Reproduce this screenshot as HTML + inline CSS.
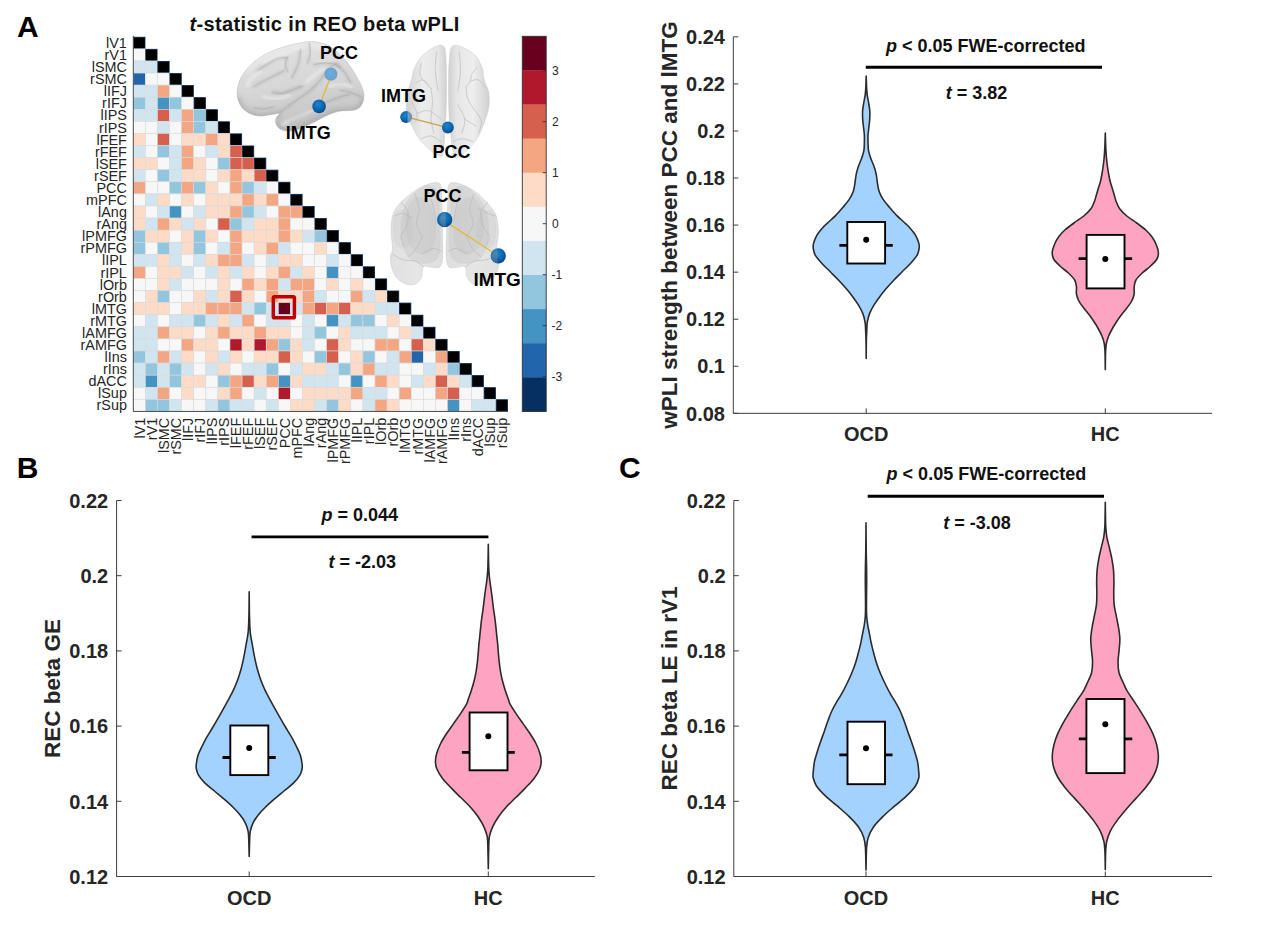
<!DOCTYPE html>
<html lang="en"><head><meta charset="utf-8"><title>Figure</title>
<style>
html,body{margin:0;padding:0;background:#fff;overflow:hidden}
svg{display:block;font-family:"Liberation Sans",sans-serif}
</style></head><body>
<svg width="1270" height="928" viewBox="0 0 1270 928">
<rect width="1270" height="928" fill="#fff"/>
<g id="heatmap">
<rect x="133.7" y="37.2" width="11.29" height="11.29" fill="#000" stroke="#05254d" stroke-width="0.8"/>
<rect x="133.3" y="48.88" width="12.09" height="12.09" fill="#f7f7f7" stroke="#d9d9d9" stroke-width="0.6"/>
<rect x="145.79" y="49.28" width="11.29" height="11.29" fill="#000" stroke="#05254d" stroke-width="0.8"/>
<rect x="133.3" y="60.97" width="12.09" height="12.09" fill="#d1e5f0" stroke="#d9d9d9" stroke-width="0.6"/>
<rect x="145.39" y="60.97" width="12.09" height="12.09" fill="#d1e5f0" stroke="#d9d9d9" stroke-width="0.6"/>
<rect x="157.87" y="61.37" width="11.29" height="11.29" fill="#000" stroke="#05254d" stroke-width="0.8"/>
<rect x="133.3" y="73.06" width="12.09" height="12.09" fill="#2166ac" stroke="#d9d9d9" stroke-width="0.6"/>
<rect x="145.39" y="73.06" width="12.09" height="12.09" fill="#f7f7f7" stroke="#d9d9d9" stroke-width="0.6"/>
<rect x="157.47" y="73.06" width="12.09" height="12.09" fill="#f7f7f7" stroke="#d9d9d9" stroke-width="0.6"/>
<rect x="169.96" y="73.46" width="11.29" height="11.29" fill="#000" stroke="#05254d" stroke-width="0.8"/>
<rect x="133.3" y="85.14" width="12.09" height="12.09" fill="#d1e5f0" stroke="#d9d9d9" stroke-width="0.6"/>
<rect x="145.39" y="85.14" width="12.09" height="12.09" fill="#d1e5f0" stroke="#d9d9d9" stroke-width="0.6"/>
<rect x="157.47" y="85.14" width="12.09" height="12.09" fill="#f4a582" stroke="#d9d9d9" stroke-width="0.6"/>
<rect x="169.56" y="85.14" width="12.09" height="12.09" fill="#f7f7f7" stroke="#d9d9d9" stroke-width="0.6"/>
<rect x="182.04" y="85.54" width="11.29" height="11.29" fill="#000" stroke="#05254d" stroke-width="0.8"/>
<rect x="133.3" y="97.22" width="12.09" height="12.09" fill="#92c5de" stroke="#d9d9d9" stroke-width="0.6"/>
<rect x="145.39" y="97.22" width="12.09" height="12.09" fill="#d1e5f0" stroke="#d9d9d9" stroke-width="0.6"/>
<rect x="157.47" y="97.22" width="12.09" height="12.09" fill="#4393c3" stroke="#d9d9d9" stroke-width="0.6"/>
<rect x="169.56" y="97.22" width="12.09" height="12.09" fill="#92c5de" stroke="#d9d9d9" stroke-width="0.6"/>
<rect x="181.64" y="97.22" width="12.09" height="12.09" fill="#f7f7f7" stroke="#d9d9d9" stroke-width="0.6"/>
<rect x="194.13" y="97.62" width="11.29" height="11.29" fill="#000" stroke="#05254d" stroke-width="0.8"/>
<rect x="133.3" y="109.31" width="12.09" height="12.09" fill="#d1e5f0" stroke="#d9d9d9" stroke-width="0.6"/>
<rect x="145.39" y="109.31" width="12.09" height="12.09" fill="#d1e5f0" stroke="#d9d9d9" stroke-width="0.6"/>
<rect x="157.47" y="109.31" width="12.09" height="12.09" fill="#d6604d" stroke="#d9d9d9" stroke-width="0.6"/>
<rect x="169.56" y="109.31" width="12.09" height="12.09" fill="#d1e5f0" stroke="#d9d9d9" stroke-width="0.6"/>
<rect x="181.64" y="109.31" width="12.09" height="12.09" fill="#f4a582" stroke="#d9d9d9" stroke-width="0.6"/>
<rect x="193.73" y="109.31" width="12.09" height="12.09" fill="#92c5de" stroke="#d9d9d9" stroke-width="0.6"/>
<rect x="206.21" y="109.71" width="11.29" height="11.29" fill="#000" stroke="#05254d" stroke-width="0.8"/>
<rect x="133.3" y="121.39" width="12.09" height="12.09" fill="#f7f7f7" stroke="#d9d9d9" stroke-width="0.6"/>
<rect x="145.39" y="121.39" width="12.09" height="12.09" fill="#f7f7f7" stroke="#d9d9d9" stroke-width="0.6"/>
<rect x="157.47" y="121.39" width="12.09" height="12.09" fill="#d1e5f0" stroke="#d9d9d9" stroke-width="0.6"/>
<rect x="169.56" y="121.39" width="12.09" height="12.09" fill="#f7f7f7" stroke="#d9d9d9" stroke-width="0.6"/>
<rect x="181.64" y="121.39" width="12.09" height="12.09" fill="#f4a582" stroke="#d9d9d9" stroke-width="0.6"/>
<rect x="193.73" y="121.39" width="12.09" height="12.09" fill="#92c5de" stroke="#d9d9d9" stroke-width="0.6"/>
<rect x="205.81" y="121.39" width="12.09" height="12.09" fill="#d1e5f0" stroke="#d9d9d9" stroke-width="0.6"/>
<rect x="218.3" y="121.8" width="11.29" height="11.29" fill="#000" stroke="#05254d" stroke-width="0.8"/>
<rect x="133.3" y="133.48" width="12.09" height="12.09" fill="#fddbc7" stroke="#d9d9d9" stroke-width="0.6"/>
<rect x="145.39" y="133.48" width="12.09" height="12.09" fill="#f7f7f7" stroke="#d9d9d9" stroke-width="0.6"/>
<rect x="157.47" y="133.48" width="12.09" height="12.09" fill="#d6604d" stroke="#d9d9d9" stroke-width="0.6"/>
<rect x="169.56" y="133.48" width="12.09" height="12.09" fill="#f7f7f7" stroke="#d9d9d9" stroke-width="0.6"/>
<rect x="181.64" y="133.48" width="12.09" height="12.09" fill="#fddbc7" stroke="#d9d9d9" stroke-width="0.6"/>
<rect x="193.73" y="133.48" width="12.09" height="12.09" fill="#fddbc7" stroke="#d9d9d9" stroke-width="0.6"/>
<rect x="205.81" y="133.48" width="12.09" height="12.09" fill="#f4a582" stroke="#d9d9d9" stroke-width="0.6"/>
<rect x="217.9" y="133.48" width="12.09" height="12.09" fill="#fddbc7" stroke="#d9d9d9" stroke-width="0.6"/>
<rect x="230.38" y="133.88" width="11.29" height="11.29" fill="#000" stroke="#05254d" stroke-width="0.8"/>
<rect x="133.3" y="145.56" width="12.09" height="12.09" fill="#d1e5f0" stroke="#d9d9d9" stroke-width="0.6"/>
<rect x="145.39" y="145.56" width="12.09" height="12.09" fill="#f7f7f7" stroke="#d9d9d9" stroke-width="0.6"/>
<rect x="157.47" y="145.56" width="12.09" height="12.09" fill="#92c5de" stroke="#d9d9d9" stroke-width="0.6"/>
<rect x="169.56" y="145.56" width="12.09" height="12.09" fill="#d1e5f0" stroke="#d9d9d9" stroke-width="0.6"/>
<rect x="181.64" y="145.56" width="12.09" height="12.09" fill="#f4a582" stroke="#d9d9d9" stroke-width="0.6"/>
<rect x="193.73" y="145.56" width="12.09" height="12.09" fill="#f7f7f7" stroke="#d9d9d9" stroke-width="0.6"/>
<rect x="205.81" y="145.56" width="12.09" height="12.09" fill="#d1e5f0" stroke="#d9d9d9" stroke-width="0.6"/>
<rect x="217.9" y="145.56" width="12.09" height="12.09" fill="#fddbc7" stroke="#d9d9d9" stroke-width="0.6"/>
<rect x="229.98" y="145.56" width="12.09" height="12.09" fill="#d6604d" stroke="#d9d9d9" stroke-width="0.6"/>
<rect x="242.47" y="145.97" width="11.29" height="11.29" fill="#000" stroke="#05254d" stroke-width="0.8"/>
<rect x="133.3" y="157.65" width="12.09" height="12.09" fill="#fddbc7" stroke="#d9d9d9" stroke-width="0.6"/>
<rect x="145.39" y="157.65" width="12.09" height="12.09" fill="#fddbc7" stroke="#d9d9d9" stroke-width="0.6"/>
<rect x="157.47" y="157.65" width="12.09" height="12.09" fill="#f7f7f7" stroke="#d9d9d9" stroke-width="0.6"/>
<rect x="169.56" y="157.65" width="12.09" height="12.09" fill="#d1e5f0" stroke="#d9d9d9" stroke-width="0.6"/>
<rect x="181.64" y="157.65" width="12.09" height="12.09" fill="#f4a582" stroke="#d9d9d9" stroke-width="0.6"/>
<rect x="193.73" y="157.65" width="12.09" height="12.09" fill="#fddbc7" stroke="#d9d9d9" stroke-width="0.6"/>
<rect x="205.81" y="157.65" width="12.09" height="12.09" fill="#f7f7f7" stroke="#d9d9d9" stroke-width="0.6"/>
<rect x="217.9" y="157.65" width="12.09" height="12.09" fill="#92c5de" stroke="#d9d9d9" stroke-width="0.6"/>
<rect x="229.98" y="157.65" width="12.09" height="12.09" fill="#d6604d" stroke="#d9d9d9" stroke-width="0.6"/>
<rect x="242.07" y="157.65" width="12.09" height="12.09" fill="#d6604d" stroke="#d9d9d9" stroke-width="0.6"/>
<rect x="254.55" y="158.05" width="11.29" height="11.29" fill="#000" stroke="#05254d" stroke-width="0.8"/>
<rect x="133.3" y="169.74" width="12.09" height="12.09" fill="#d1e5f0" stroke="#d9d9d9" stroke-width="0.6"/>
<rect x="145.39" y="169.74" width="12.09" height="12.09" fill="#f7f7f7" stroke="#d9d9d9" stroke-width="0.6"/>
<rect x="157.47" y="169.74" width="12.09" height="12.09" fill="#92c5de" stroke="#d9d9d9" stroke-width="0.6"/>
<rect x="169.56" y="169.74" width="12.09" height="12.09" fill="#d1e5f0" stroke="#d9d9d9" stroke-width="0.6"/>
<rect x="181.64" y="169.74" width="12.09" height="12.09" fill="#fddbc7" stroke="#d9d9d9" stroke-width="0.6"/>
<rect x="193.73" y="169.74" width="12.09" height="12.09" fill="#fddbc7" stroke="#d9d9d9" stroke-width="0.6"/>
<rect x="205.81" y="169.74" width="12.09" height="12.09" fill="#f7f7f7" stroke="#d9d9d9" stroke-width="0.6"/>
<rect x="217.9" y="169.74" width="12.09" height="12.09" fill="#fddbc7" stroke="#d9d9d9" stroke-width="0.6"/>
<rect x="229.98" y="169.74" width="12.09" height="12.09" fill="#f4a582" stroke="#d9d9d9" stroke-width="0.6"/>
<rect x="242.07" y="169.74" width="12.09" height="12.09" fill="#fddbc7" stroke="#d9d9d9" stroke-width="0.6"/>
<rect x="254.15" y="169.74" width="12.09" height="12.09" fill="#d6604d" stroke="#d9d9d9" stroke-width="0.6"/>
<rect x="266.63" y="170.14" width="11.29" height="11.29" fill="#000" stroke="#05254d" stroke-width="0.8"/>
<rect x="133.3" y="181.82" width="12.09" height="12.09" fill="#f4a582" stroke="#d9d9d9" stroke-width="0.6"/>
<rect x="145.39" y="181.82" width="12.09" height="12.09" fill="#f7f7f7" stroke="#d9d9d9" stroke-width="0.6"/>
<rect x="157.47" y="181.82" width="12.09" height="12.09" fill="#f7f7f7" stroke="#d9d9d9" stroke-width="0.6"/>
<rect x="169.56" y="181.82" width="12.09" height="12.09" fill="#92c5de" stroke="#d9d9d9" stroke-width="0.6"/>
<rect x="181.64" y="181.82" width="12.09" height="12.09" fill="#f4a582" stroke="#d9d9d9" stroke-width="0.6"/>
<rect x="193.73" y="181.82" width="12.09" height="12.09" fill="#92c5de" stroke="#d9d9d9" stroke-width="0.6"/>
<rect x="205.81" y="181.82" width="12.09" height="12.09" fill="#fddbc7" stroke="#d9d9d9" stroke-width="0.6"/>
<rect x="217.9" y="181.82" width="12.09" height="12.09" fill="#f7f7f7" stroke="#d9d9d9" stroke-width="0.6"/>
<rect x="229.98" y="181.82" width="12.09" height="12.09" fill="#f4a582" stroke="#d9d9d9" stroke-width="0.6"/>
<rect x="242.07" y="181.82" width="12.09" height="12.09" fill="#92c5de" stroke="#d9d9d9" stroke-width="0.6"/>
<rect x="254.15" y="181.82" width="12.09" height="12.09" fill="#d1e5f0" stroke="#d9d9d9" stroke-width="0.6"/>
<rect x="266.24" y="181.82" width="12.09" height="12.09" fill="#f7f7f7" stroke="#d9d9d9" stroke-width="0.6"/>
<rect x="278.72" y="182.22" width="11.29" height="11.29" fill="#000" stroke="#05254d" stroke-width="0.8"/>
<rect x="133.3" y="193.91" width="12.09" height="12.09" fill="#f7f7f7" stroke="#d9d9d9" stroke-width="0.6"/>
<rect x="145.39" y="193.91" width="12.09" height="12.09" fill="#d1e5f0" stroke="#d9d9d9" stroke-width="0.6"/>
<rect x="157.47" y="193.91" width="12.09" height="12.09" fill="#fddbc7" stroke="#d9d9d9" stroke-width="0.6"/>
<rect x="169.56" y="193.91" width="12.09" height="12.09" fill="#f7f7f7" stroke="#d9d9d9" stroke-width="0.6"/>
<rect x="181.64" y="193.91" width="12.09" height="12.09" fill="#fddbc7" stroke="#d9d9d9" stroke-width="0.6"/>
<rect x="193.73" y="193.91" width="12.09" height="12.09" fill="#f7f7f7" stroke="#d9d9d9" stroke-width="0.6"/>
<rect x="205.81" y="193.91" width="12.09" height="12.09" fill="#fddbc7" stroke="#d9d9d9" stroke-width="0.6"/>
<rect x="217.9" y="193.91" width="12.09" height="12.09" fill="#fddbc7" stroke="#d9d9d9" stroke-width="0.6"/>
<rect x="229.98" y="193.91" width="12.09" height="12.09" fill="#fddbc7" stroke="#d9d9d9" stroke-width="0.6"/>
<rect x="242.07" y="193.91" width="12.09" height="12.09" fill="#f4a582" stroke="#d9d9d9" stroke-width="0.6"/>
<rect x="254.15" y="193.91" width="12.09" height="12.09" fill="#fddbc7" stroke="#d9d9d9" stroke-width="0.6"/>
<rect x="266.24" y="193.91" width="12.09" height="12.09" fill="#f4a582" stroke="#d9d9d9" stroke-width="0.6"/>
<rect x="278.32" y="193.91" width="12.09" height="12.09" fill="#f7f7f7" stroke="#d9d9d9" stroke-width="0.6"/>
<rect x="290.81" y="194.31" width="11.29" height="11.29" fill="#000" stroke="#05254d" stroke-width="0.8"/>
<rect x="133.3" y="205.99" width="12.09" height="12.09" fill="#fddbc7" stroke="#d9d9d9" stroke-width="0.6"/>
<rect x="145.39" y="205.99" width="12.09" height="12.09" fill="#f7f7f7" stroke="#d9d9d9" stroke-width="0.6"/>
<rect x="157.47" y="205.99" width="12.09" height="12.09" fill="#d1e5f0" stroke="#d9d9d9" stroke-width="0.6"/>
<rect x="169.56" y="205.99" width="12.09" height="12.09" fill="#4393c3" stroke="#d9d9d9" stroke-width="0.6"/>
<rect x="181.64" y="205.99" width="12.09" height="12.09" fill="#f7f7f7" stroke="#d9d9d9" stroke-width="0.6"/>
<rect x="193.73" y="205.99" width="12.09" height="12.09" fill="#d1e5f0" stroke="#d9d9d9" stroke-width="0.6"/>
<rect x="205.81" y="205.99" width="12.09" height="12.09" fill="#fddbc7" stroke="#d9d9d9" stroke-width="0.6"/>
<rect x="217.9" y="205.99" width="12.09" height="12.09" fill="#fddbc7" stroke="#d9d9d9" stroke-width="0.6"/>
<rect x="229.98" y="205.99" width="12.09" height="12.09" fill="#f4a582" stroke="#d9d9d9" stroke-width="0.6"/>
<rect x="242.07" y="205.99" width="12.09" height="12.09" fill="#92c5de" stroke="#d9d9d9" stroke-width="0.6"/>
<rect x="254.15" y="205.99" width="12.09" height="12.09" fill="#d1e5f0" stroke="#d9d9d9" stroke-width="0.6"/>
<rect x="266.24" y="205.99" width="12.09" height="12.09" fill="#f7f7f7" stroke="#d9d9d9" stroke-width="0.6"/>
<rect x="278.32" y="205.99" width="12.09" height="12.09" fill="#f4a582" stroke="#d9d9d9" stroke-width="0.6"/>
<rect x="290.41" y="205.99" width="12.09" height="12.09" fill="#f4a582" stroke="#d9d9d9" stroke-width="0.6"/>
<rect x="302.89" y="206.39" width="11.29" height="11.29" fill="#000" stroke="#05254d" stroke-width="0.8"/>
<rect x="133.3" y="218.07" width="12.09" height="12.09" fill="#fddbc7" stroke="#d9d9d9" stroke-width="0.6"/>
<rect x="145.39" y="218.07" width="12.09" height="12.09" fill="#d1e5f0" stroke="#d9d9d9" stroke-width="0.6"/>
<rect x="157.47" y="218.07" width="12.09" height="12.09" fill="#f4a582" stroke="#d9d9d9" stroke-width="0.6"/>
<rect x="169.56" y="218.07" width="12.09" height="12.09" fill="#fddbc7" stroke="#d9d9d9" stroke-width="0.6"/>
<rect x="181.64" y="218.07" width="12.09" height="12.09" fill="#d1e5f0" stroke="#d9d9d9" stroke-width="0.6"/>
<rect x="193.73" y="218.07" width="12.09" height="12.09" fill="#fddbc7" stroke="#d9d9d9" stroke-width="0.6"/>
<rect x="205.81" y="218.07" width="12.09" height="12.09" fill="#f7f7f7" stroke="#d9d9d9" stroke-width="0.6"/>
<rect x="217.9" y="218.07" width="12.09" height="12.09" fill="#d6604d" stroke="#d9d9d9" stroke-width="0.6"/>
<rect x="229.98" y="218.07" width="12.09" height="12.09" fill="#92c5de" stroke="#d9d9d9" stroke-width="0.6"/>
<rect x="242.07" y="218.07" width="12.09" height="12.09" fill="#d1e5f0" stroke="#d9d9d9" stroke-width="0.6"/>
<rect x="254.15" y="218.07" width="12.09" height="12.09" fill="#fddbc7" stroke="#d9d9d9" stroke-width="0.6"/>
<rect x="266.24" y="218.07" width="12.09" height="12.09" fill="#fddbc7" stroke="#d9d9d9" stroke-width="0.6"/>
<rect x="278.32" y="218.07" width="12.09" height="12.09" fill="#f4a582" stroke="#d9d9d9" stroke-width="0.6"/>
<rect x="290.41" y="218.07" width="12.09" height="12.09" fill="#f7f7f7" stroke="#d9d9d9" stroke-width="0.6"/>
<rect x="302.49" y="218.07" width="12.09" height="12.09" fill="#f7f7f7" stroke="#d9d9d9" stroke-width="0.6"/>
<rect x="314.98" y="218.47" width="11.29" height="11.29" fill="#000" stroke="#05254d" stroke-width="0.8"/>
<rect x="133.3" y="230.16" width="12.09" height="12.09" fill="#92c5de" stroke="#d9d9d9" stroke-width="0.6"/>
<rect x="145.39" y="230.16" width="12.09" height="12.09" fill="#fddbc7" stroke="#d9d9d9" stroke-width="0.6"/>
<rect x="157.47" y="230.16" width="12.09" height="12.09" fill="#fddbc7" stroke="#d9d9d9" stroke-width="0.6"/>
<rect x="169.56" y="230.16" width="12.09" height="12.09" fill="#f7f7f7" stroke="#d9d9d9" stroke-width="0.6"/>
<rect x="181.64" y="230.16" width="12.09" height="12.09" fill="#fddbc7" stroke="#d9d9d9" stroke-width="0.6"/>
<rect x="193.73" y="230.16" width="12.09" height="12.09" fill="#92c5de" stroke="#d9d9d9" stroke-width="0.6"/>
<rect x="205.81" y="230.16" width="12.09" height="12.09" fill="#fddbc7" stroke="#d9d9d9" stroke-width="0.6"/>
<rect x="217.9" y="230.16" width="12.09" height="12.09" fill="#f7f7f7" stroke="#d9d9d9" stroke-width="0.6"/>
<rect x="229.98" y="230.16" width="12.09" height="12.09" fill="#f4a582" stroke="#d9d9d9" stroke-width="0.6"/>
<rect x="242.07" y="230.16" width="12.09" height="12.09" fill="#fddbc7" stroke="#d9d9d9" stroke-width="0.6"/>
<rect x="254.15" y="230.16" width="12.09" height="12.09" fill="#fddbc7" stroke="#d9d9d9" stroke-width="0.6"/>
<rect x="266.24" y="230.16" width="12.09" height="12.09" fill="#fddbc7" stroke="#d9d9d9" stroke-width="0.6"/>
<rect x="278.32" y="230.16" width="12.09" height="12.09" fill="#f4a582" stroke="#d9d9d9" stroke-width="0.6"/>
<rect x="290.41" y="230.16" width="12.09" height="12.09" fill="#fddbc7" stroke="#d9d9d9" stroke-width="0.6"/>
<rect x="302.49" y="230.16" width="12.09" height="12.09" fill="#d1e5f0" stroke="#d9d9d9" stroke-width="0.6"/>
<rect x="314.58" y="230.16" width="12.09" height="12.09" fill="#92c5de" stroke="#d9d9d9" stroke-width="0.6"/>
<rect x="327.06" y="230.56" width="11.29" height="11.29" fill="#000" stroke="#05254d" stroke-width="0.8"/>
<rect x="133.3" y="242.25" width="12.09" height="12.09" fill="#92c5de" stroke="#d9d9d9" stroke-width="0.6"/>
<rect x="145.39" y="242.25" width="12.09" height="12.09" fill="#f7f7f7" stroke="#d9d9d9" stroke-width="0.6"/>
<rect x="157.47" y="242.25" width="12.09" height="12.09" fill="#92c5de" stroke="#d9d9d9" stroke-width="0.6"/>
<rect x="169.56" y="242.25" width="12.09" height="12.09" fill="#d1e5f0" stroke="#d9d9d9" stroke-width="0.6"/>
<rect x="181.64" y="242.25" width="12.09" height="12.09" fill="#fddbc7" stroke="#d9d9d9" stroke-width="0.6"/>
<rect x="193.73" y="242.25" width="12.09" height="12.09" fill="#92c5de" stroke="#d9d9d9" stroke-width="0.6"/>
<rect x="205.81" y="242.25" width="12.09" height="12.09" fill="#f7f7f7" stroke="#d9d9d9" stroke-width="0.6"/>
<rect x="217.9" y="242.25" width="12.09" height="12.09" fill="#d1e5f0" stroke="#d9d9d9" stroke-width="0.6"/>
<rect x="229.98" y="242.25" width="12.09" height="12.09" fill="#f4a582" stroke="#d9d9d9" stroke-width="0.6"/>
<rect x="242.07" y="242.25" width="12.09" height="12.09" fill="#f7f7f7" stroke="#d9d9d9" stroke-width="0.6"/>
<rect x="254.15" y="242.25" width="12.09" height="12.09" fill="#fddbc7" stroke="#d9d9d9" stroke-width="0.6"/>
<rect x="266.24" y="242.25" width="12.09" height="12.09" fill="#f4a582" stroke="#d9d9d9" stroke-width="0.6"/>
<rect x="278.32" y="242.25" width="12.09" height="12.09" fill="#d1e5f0" stroke="#d9d9d9" stroke-width="0.6"/>
<rect x="290.41" y="242.25" width="12.09" height="12.09" fill="#f7f7f7" stroke="#d9d9d9" stroke-width="0.6"/>
<rect x="302.49" y="242.25" width="12.09" height="12.09" fill="#f7f7f7" stroke="#d9d9d9" stroke-width="0.6"/>
<rect x="314.58" y="242.25" width="12.09" height="12.09" fill="#fddbc7" stroke="#d9d9d9" stroke-width="0.6"/>
<rect x="326.66" y="242.25" width="12.09" height="12.09" fill="#f7f7f7" stroke="#d9d9d9" stroke-width="0.6"/>
<rect x="339.14" y="242.65" width="11.29" height="11.29" fill="#000" stroke="#05254d" stroke-width="0.8"/>
<rect x="133.3" y="254.33" width="12.09" height="12.09" fill="#d1e5f0" stroke="#d9d9d9" stroke-width="0.6"/>
<rect x="145.39" y="254.33" width="12.09" height="12.09" fill="#d1e5f0" stroke="#d9d9d9" stroke-width="0.6"/>
<rect x="157.47" y="254.33" width="12.09" height="12.09" fill="#fddbc7" stroke="#d9d9d9" stroke-width="0.6"/>
<rect x="169.56" y="254.33" width="12.09" height="12.09" fill="#d1e5f0" stroke="#d9d9d9" stroke-width="0.6"/>
<rect x="181.64" y="254.33" width="12.09" height="12.09" fill="#f7f7f7" stroke="#d9d9d9" stroke-width="0.6"/>
<rect x="193.73" y="254.33" width="12.09" height="12.09" fill="#d1e5f0" stroke="#d9d9d9" stroke-width="0.6"/>
<rect x="205.81" y="254.33" width="12.09" height="12.09" fill="#fddbc7" stroke="#d9d9d9" stroke-width="0.6"/>
<rect x="217.9" y="254.33" width="12.09" height="12.09" fill="#f4a582" stroke="#d9d9d9" stroke-width="0.6"/>
<rect x="229.98" y="254.33" width="12.09" height="12.09" fill="#f4a582" stroke="#d9d9d9" stroke-width="0.6"/>
<rect x="242.07" y="254.33" width="12.09" height="12.09" fill="#d1e5f0" stroke="#d9d9d9" stroke-width="0.6"/>
<rect x="254.15" y="254.33" width="12.09" height="12.09" fill="#f7f7f7" stroke="#d9d9d9" stroke-width="0.6"/>
<rect x="266.24" y="254.33" width="12.09" height="12.09" fill="#d1e5f0" stroke="#d9d9d9" stroke-width="0.6"/>
<rect x="278.32" y="254.33" width="12.09" height="12.09" fill="#fddbc7" stroke="#d9d9d9" stroke-width="0.6"/>
<rect x="290.41" y="254.33" width="12.09" height="12.09" fill="#fddbc7" stroke="#d9d9d9" stroke-width="0.6"/>
<rect x="302.49" y="254.33" width="12.09" height="12.09" fill="#f7f7f7" stroke="#d9d9d9" stroke-width="0.6"/>
<rect x="314.58" y="254.33" width="12.09" height="12.09" fill="#f7f7f7" stroke="#d9d9d9" stroke-width="0.6"/>
<rect x="326.66" y="254.33" width="12.09" height="12.09" fill="#d1e5f0" stroke="#d9d9d9" stroke-width="0.6"/>
<rect x="338.75" y="254.33" width="12.09" height="12.09" fill="#f7f7f7" stroke="#d9d9d9" stroke-width="0.6"/>
<rect x="351.23" y="254.73" width="11.29" height="11.29" fill="#000" stroke="#05254d" stroke-width="0.8"/>
<rect x="133.3" y="266.42" width="12.09" height="12.09" fill="#f4a582" stroke="#d9d9d9" stroke-width="0.6"/>
<rect x="145.39" y="266.42" width="12.09" height="12.09" fill="#f7f7f7" stroke="#d9d9d9" stroke-width="0.6"/>
<rect x="157.47" y="266.42" width="12.09" height="12.09" fill="#fddbc7" stroke="#d9d9d9" stroke-width="0.6"/>
<rect x="169.56" y="266.42" width="12.09" height="12.09" fill="#fddbc7" stroke="#d9d9d9" stroke-width="0.6"/>
<rect x="181.64" y="266.42" width="12.09" height="12.09" fill="#d1e5f0" stroke="#d9d9d9" stroke-width="0.6"/>
<rect x="193.73" y="266.42" width="12.09" height="12.09" fill="#f7f7f7" stroke="#d9d9d9" stroke-width="0.6"/>
<rect x="205.81" y="266.42" width="12.09" height="12.09" fill="#d1e5f0" stroke="#d9d9d9" stroke-width="0.6"/>
<rect x="217.9" y="266.42" width="12.09" height="12.09" fill="#fddbc7" stroke="#d9d9d9" stroke-width="0.6"/>
<rect x="229.98" y="266.42" width="12.09" height="12.09" fill="#d1e5f0" stroke="#d9d9d9" stroke-width="0.6"/>
<rect x="242.07" y="266.42" width="12.09" height="12.09" fill="#fddbc7" stroke="#d9d9d9" stroke-width="0.6"/>
<rect x="254.15" y="266.42" width="12.09" height="12.09" fill="#f7f7f7" stroke="#d9d9d9" stroke-width="0.6"/>
<rect x="266.24" y="266.42" width="12.09" height="12.09" fill="#fddbc7" stroke="#d9d9d9" stroke-width="0.6"/>
<rect x="278.32" y="266.42" width="12.09" height="12.09" fill="#f4a582" stroke="#d9d9d9" stroke-width="0.6"/>
<rect x="290.41" y="266.42" width="12.09" height="12.09" fill="#d1e5f0" stroke="#d9d9d9" stroke-width="0.6"/>
<rect x="302.49" y="266.42" width="12.09" height="12.09" fill="#fddbc7" stroke="#d9d9d9" stroke-width="0.6"/>
<rect x="314.58" y="266.42" width="12.09" height="12.09" fill="#f7f7f7" stroke="#d9d9d9" stroke-width="0.6"/>
<rect x="326.66" y="266.42" width="12.09" height="12.09" fill="#4393c3" stroke="#d9d9d9" stroke-width="0.6"/>
<rect x="338.75" y="266.42" width="12.09" height="12.09" fill="#f7f7f7" stroke="#d9d9d9" stroke-width="0.6"/>
<rect x="350.83" y="266.42" width="12.09" height="12.09" fill="#f7f7f7" stroke="#d9d9d9" stroke-width="0.6"/>
<rect x="363.31" y="266.81" width="11.29" height="11.29" fill="#000" stroke="#05254d" stroke-width="0.8"/>
<rect x="133.3" y="278.5" width="12.09" height="12.09" fill="#f7f7f7" stroke="#d9d9d9" stroke-width="0.6"/>
<rect x="145.39" y="278.5" width="12.09" height="12.09" fill="#f7f7f7" stroke="#d9d9d9" stroke-width="0.6"/>
<rect x="157.47" y="278.5" width="12.09" height="12.09" fill="#fddbc7" stroke="#d9d9d9" stroke-width="0.6"/>
<rect x="169.56" y="278.5" width="12.09" height="12.09" fill="#d1e5f0" stroke="#d9d9d9" stroke-width="0.6"/>
<rect x="181.64" y="278.5" width="12.09" height="12.09" fill="#f7f7f7" stroke="#d9d9d9" stroke-width="0.6"/>
<rect x="193.73" y="278.5" width="12.09" height="12.09" fill="#f7f7f7" stroke="#d9d9d9" stroke-width="0.6"/>
<rect x="205.81" y="278.5" width="12.09" height="12.09" fill="#f7f7f7" stroke="#d9d9d9" stroke-width="0.6"/>
<rect x="217.9" y="278.5" width="12.09" height="12.09" fill="#fddbc7" stroke="#d9d9d9" stroke-width="0.6"/>
<rect x="229.98" y="278.5" width="12.09" height="12.09" fill="#f7f7f7" stroke="#d9d9d9" stroke-width="0.6"/>
<rect x="242.07" y="278.5" width="12.09" height="12.09" fill="#f4a582" stroke="#d9d9d9" stroke-width="0.6"/>
<rect x="254.15" y="278.5" width="12.09" height="12.09" fill="#fddbc7" stroke="#d9d9d9" stroke-width="0.6"/>
<rect x="266.24" y="278.5" width="12.09" height="12.09" fill="#f4a582" stroke="#d9d9d9" stroke-width="0.6"/>
<rect x="278.32" y="278.5" width="12.09" height="12.09" fill="#d1e5f0" stroke="#d9d9d9" stroke-width="0.6"/>
<rect x="290.41" y="278.5" width="12.09" height="12.09" fill="#f4a582" stroke="#d9d9d9" stroke-width="0.6"/>
<rect x="302.49" y="278.5" width="12.09" height="12.09" fill="#f4a582" stroke="#d9d9d9" stroke-width="0.6"/>
<rect x="314.58" y="278.5" width="12.09" height="12.09" fill="#f7f7f7" stroke="#d9d9d9" stroke-width="0.6"/>
<rect x="326.66" y="278.5" width="12.09" height="12.09" fill="#fddbc7" stroke="#d9d9d9" stroke-width="0.6"/>
<rect x="338.75" y="278.5" width="12.09" height="12.09" fill="#f7f7f7" stroke="#d9d9d9" stroke-width="0.6"/>
<rect x="350.83" y="278.5" width="12.09" height="12.09" fill="#fddbc7" stroke="#d9d9d9" stroke-width="0.6"/>
<rect x="362.92" y="278.5" width="12.09" height="12.09" fill="#f7f7f7" stroke="#d9d9d9" stroke-width="0.6"/>
<rect x="375.4" y="278.9" width="11.29" height="11.29" fill="#000" stroke="#05254d" stroke-width="0.8"/>
<rect x="133.3" y="290.59" width="12.09" height="12.09" fill="#f7f7f7" stroke="#d9d9d9" stroke-width="0.6"/>
<rect x="145.39" y="290.59" width="12.09" height="12.09" fill="#fddbc7" stroke="#d9d9d9" stroke-width="0.6"/>
<rect x="157.47" y="290.59" width="12.09" height="12.09" fill="#92c5de" stroke="#d9d9d9" stroke-width="0.6"/>
<rect x="169.56" y="290.59" width="12.09" height="12.09" fill="#f7f7f7" stroke="#d9d9d9" stroke-width="0.6"/>
<rect x="181.64" y="290.59" width="12.09" height="12.09" fill="#f7f7f7" stroke="#d9d9d9" stroke-width="0.6"/>
<rect x="193.73" y="290.59" width="12.09" height="12.09" fill="#fddbc7" stroke="#d9d9d9" stroke-width="0.6"/>
<rect x="205.81" y="290.59" width="12.09" height="12.09" fill="#d1e5f0" stroke="#d9d9d9" stroke-width="0.6"/>
<rect x="217.9" y="290.59" width="12.09" height="12.09" fill="#fddbc7" stroke="#d9d9d9" stroke-width="0.6"/>
<rect x="229.98" y="290.59" width="12.09" height="12.09" fill="#d6604d" stroke="#d9d9d9" stroke-width="0.6"/>
<rect x="242.07" y="290.59" width="12.09" height="12.09" fill="#fddbc7" stroke="#d9d9d9" stroke-width="0.6"/>
<rect x="254.15" y="290.59" width="12.09" height="12.09" fill="#f7f7f7" stroke="#d9d9d9" stroke-width="0.6"/>
<rect x="266.24" y="290.59" width="12.09" height="12.09" fill="#f4a582" stroke="#d9d9d9" stroke-width="0.6"/>
<rect x="278.32" y="290.59" width="12.09" height="12.09" fill="#fddbc7" stroke="#d9d9d9" stroke-width="0.6"/>
<rect x="290.41" y="290.59" width="12.09" height="12.09" fill="#fddbc7" stroke="#d9d9d9" stroke-width="0.6"/>
<rect x="302.49" y="290.59" width="12.09" height="12.09" fill="#f4a582" stroke="#d9d9d9" stroke-width="0.6"/>
<rect x="314.58" y="290.59" width="12.09" height="12.09" fill="#d1e5f0" stroke="#d9d9d9" stroke-width="0.6"/>
<rect x="326.66" y="290.59" width="12.09" height="12.09" fill="#f7f7f7" stroke="#d9d9d9" stroke-width="0.6"/>
<rect x="338.75" y="290.59" width="12.09" height="12.09" fill="#f7f7f7" stroke="#d9d9d9" stroke-width="0.6"/>
<rect x="350.83" y="290.59" width="12.09" height="12.09" fill="#f4a582" stroke="#d9d9d9" stroke-width="0.6"/>
<rect x="362.92" y="290.59" width="12.09" height="12.09" fill="#d1e5f0" stroke="#d9d9d9" stroke-width="0.6"/>
<rect x="375" y="290.59" width="12.09" height="12.09" fill="#fddbc7" stroke="#d9d9d9" stroke-width="0.6"/>
<rect x="387.49" y="290.99" width="11.29" height="11.29" fill="#000" stroke="#05254d" stroke-width="0.8"/>
<rect x="133.3" y="302.67" width="12.09" height="12.09" fill="#fddbc7" stroke="#d9d9d9" stroke-width="0.6"/>
<rect x="145.39" y="302.67" width="12.09" height="12.09" fill="#fddbc7" stroke="#d9d9d9" stroke-width="0.6"/>
<rect x="157.47" y="302.67" width="12.09" height="12.09" fill="#fddbc7" stroke="#d9d9d9" stroke-width="0.6"/>
<rect x="169.56" y="302.67" width="12.09" height="12.09" fill="#f7f7f7" stroke="#d9d9d9" stroke-width="0.6"/>
<rect x="181.64" y="302.67" width="12.09" height="12.09" fill="#fddbc7" stroke="#d9d9d9" stroke-width="0.6"/>
<rect x="193.73" y="302.67" width="12.09" height="12.09" fill="#fddbc7" stroke="#d9d9d9" stroke-width="0.6"/>
<rect x="205.81" y="302.67" width="12.09" height="12.09" fill="#f4a582" stroke="#d9d9d9" stroke-width="0.6"/>
<rect x="217.9" y="302.67" width="12.09" height="12.09" fill="#f4a582" stroke="#d9d9d9" stroke-width="0.6"/>
<rect x="229.98" y="302.67" width="12.09" height="12.09" fill="#f4a582" stroke="#d9d9d9" stroke-width="0.6"/>
<rect x="242.07" y="302.67" width="12.09" height="12.09" fill="#d1e5f0" stroke="#d9d9d9" stroke-width="0.6"/>
<rect x="254.15" y="302.67" width="12.09" height="12.09" fill="#92c5de" stroke="#d9d9d9" stroke-width="0.6"/>
<rect x="266.24" y="302.67" width="12.09" height="12.09" fill="#d1e5f0" stroke="#d9d9d9" stroke-width="0.6"/>
<rect x="278.32" y="302.67" width="12.09" height="12.09" fill="#67001f" stroke="#d9d9d9" stroke-width="0.6"/>
<rect x="290.41" y="302.67" width="12.09" height="12.09" fill="#d1e5f0" stroke="#d9d9d9" stroke-width="0.6"/>
<rect x="302.49" y="302.67" width="12.09" height="12.09" fill="#f4a582" stroke="#d9d9d9" stroke-width="0.6"/>
<rect x="314.58" y="302.67" width="12.09" height="12.09" fill="#d6604d" stroke="#d9d9d9" stroke-width="0.6"/>
<rect x="326.66" y="302.67" width="12.09" height="12.09" fill="#f4a582" stroke="#d9d9d9" stroke-width="0.6"/>
<rect x="338.75" y="302.67" width="12.09" height="12.09" fill="#d6604d" stroke="#d9d9d9" stroke-width="0.6"/>
<rect x="350.83" y="302.67" width="12.09" height="12.09" fill="#fddbc7" stroke="#d9d9d9" stroke-width="0.6"/>
<rect x="362.92" y="302.67" width="12.09" height="12.09" fill="#fddbc7" stroke="#d9d9d9" stroke-width="0.6"/>
<rect x="375" y="302.67" width="12.09" height="12.09" fill="#d1e5f0" stroke="#d9d9d9" stroke-width="0.6"/>
<rect x="387.09" y="302.67" width="12.09" height="12.09" fill="#d1e5f0" stroke="#d9d9d9" stroke-width="0.6"/>
<rect x="399.57" y="303.07" width="11.29" height="11.29" fill="#000" stroke="#05254d" stroke-width="0.8"/>
<rect x="133.3" y="314.76" width="12.09" height="12.09" fill="#f7f7f7" stroke="#d9d9d9" stroke-width="0.6"/>
<rect x="145.39" y="314.76" width="12.09" height="12.09" fill="#d1e5f0" stroke="#d9d9d9" stroke-width="0.6"/>
<rect x="157.47" y="314.76" width="12.09" height="12.09" fill="#f7f7f7" stroke="#d9d9d9" stroke-width="0.6"/>
<rect x="169.56" y="314.76" width="12.09" height="12.09" fill="#d1e5f0" stroke="#d9d9d9" stroke-width="0.6"/>
<rect x="181.64" y="314.76" width="12.09" height="12.09" fill="#d1e5f0" stroke="#d9d9d9" stroke-width="0.6"/>
<rect x="193.73" y="314.76" width="12.09" height="12.09" fill="#92c5de" stroke="#d9d9d9" stroke-width="0.6"/>
<rect x="205.81" y="314.76" width="12.09" height="12.09" fill="#d1e5f0" stroke="#d9d9d9" stroke-width="0.6"/>
<rect x="217.9" y="314.76" width="12.09" height="12.09" fill="#fddbc7" stroke="#d9d9d9" stroke-width="0.6"/>
<rect x="229.98" y="314.76" width="12.09" height="12.09" fill="#d1e5f0" stroke="#d9d9d9" stroke-width="0.6"/>
<rect x="242.07" y="314.76" width="12.09" height="12.09" fill="#f4a582" stroke="#d9d9d9" stroke-width="0.6"/>
<rect x="254.15" y="314.76" width="12.09" height="12.09" fill="#f7f7f7" stroke="#d9d9d9" stroke-width="0.6"/>
<rect x="266.24" y="314.76" width="12.09" height="12.09" fill="#d1e5f0" stroke="#d9d9d9" stroke-width="0.6"/>
<rect x="278.32" y="314.76" width="12.09" height="12.09" fill="#d1e5f0" stroke="#d9d9d9" stroke-width="0.6"/>
<rect x="290.41" y="314.76" width="12.09" height="12.09" fill="#f7f7f7" stroke="#d9d9d9" stroke-width="0.6"/>
<rect x="302.49" y="314.76" width="12.09" height="12.09" fill="#d1e5f0" stroke="#d9d9d9" stroke-width="0.6"/>
<rect x="314.58" y="314.76" width="12.09" height="12.09" fill="#f7f7f7" stroke="#d9d9d9" stroke-width="0.6"/>
<rect x="326.66" y="314.76" width="12.09" height="12.09" fill="#4393c3" stroke="#d9d9d9" stroke-width="0.6"/>
<rect x="338.75" y="314.76" width="12.09" height="12.09" fill="#d1e5f0" stroke="#d9d9d9" stroke-width="0.6"/>
<rect x="350.83" y="314.76" width="12.09" height="12.09" fill="#92c5de" stroke="#d9d9d9" stroke-width="0.6"/>
<rect x="362.92" y="314.76" width="12.09" height="12.09" fill="#92c5de" stroke="#d9d9d9" stroke-width="0.6"/>
<rect x="375" y="314.76" width="12.09" height="12.09" fill="#f7f7f7" stroke="#d9d9d9" stroke-width="0.6"/>
<rect x="387.09" y="314.76" width="12.09" height="12.09" fill="#fddbc7" stroke="#d9d9d9" stroke-width="0.6"/>
<rect x="399.17" y="314.76" width="12.09" height="12.09" fill="#f7f7f7" stroke="#d9d9d9" stroke-width="0.6"/>
<rect x="411.66" y="315.16" width="11.29" height="11.29" fill="#000" stroke="#05254d" stroke-width="0.8"/>
<rect x="133.3" y="326.84" width="12.09" height="12.09" fill="#d1e5f0" stroke="#d9d9d9" stroke-width="0.6"/>
<rect x="145.39" y="326.84" width="12.09" height="12.09" fill="#d1e5f0" stroke="#d9d9d9" stroke-width="0.6"/>
<rect x="157.47" y="326.84" width="12.09" height="12.09" fill="#f4a582" stroke="#d9d9d9" stroke-width="0.6"/>
<rect x="169.56" y="326.84" width="12.09" height="12.09" fill="#fddbc7" stroke="#d9d9d9" stroke-width="0.6"/>
<rect x="181.64" y="326.84" width="12.09" height="12.09" fill="#fddbc7" stroke="#d9d9d9" stroke-width="0.6"/>
<rect x="193.73" y="326.84" width="12.09" height="12.09" fill="#f7f7f7" stroke="#d9d9d9" stroke-width="0.6"/>
<rect x="205.81" y="326.84" width="12.09" height="12.09" fill="#fddbc7" stroke="#d9d9d9" stroke-width="0.6"/>
<rect x="217.9" y="326.84" width="12.09" height="12.09" fill="#f4a582" stroke="#d9d9d9" stroke-width="0.6"/>
<rect x="229.98" y="326.84" width="12.09" height="12.09" fill="#fddbc7" stroke="#d9d9d9" stroke-width="0.6"/>
<rect x="242.07" y="326.84" width="12.09" height="12.09" fill="#fddbc7" stroke="#d9d9d9" stroke-width="0.6"/>
<rect x="254.15" y="326.84" width="12.09" height="12.09" fill="#f4a582" stroke="#d9d9d9" stroke-width="0.6"/>
<rect x="266.24" y="326.84" width="12.09" height="12.09" fill="#fddbc7" stroke="#d9d9d9" stroke-width="0.6"/>
<rect x="278.32" y="326.84" width="12.09" height="12.09" fill="#fddbc7" stroke="#d9d9d9" stroke-width="0.6"/>
<rect x="290.41" y="326.84" width="12.09" height="12.09" fill="#f7f7f7" stroke="#d9d9d9" stroke-width="0.6"/>
<rect x="302.49" y="326.84" width="12.09" height="12.09" fill="#d1e5f0" stroke="#d9d9d9" stroke-width="0.6"/>
<rect x="314.58" y="326.84" width="12.09" height="12.09" fill="#92c5de" stroke="#d9d9d9" stroke-width="0.6"/>
<rect x="326.66" y="326.84" width="12.09" height="12.09" fill="#f7f7f7" stroke="#d9d9d9" stroke-width="0.6"/>
<rect x="338.75" y="326.84" width="12.09" height="12.09" fill="#fddbc7" stroke="#d9d9d9" stroke-width="0.6"/>
<rect x="350.83" y="326.84" width="12.09" height="12.09" fill="#d1e5f0" stroke="#d9d9d9" stroke-width="0.6"/>
<rect x="362.92" y="326.84" width="12.09" height="12.09" fill="#d1e5f0" stroke="#d9d9d9" stroke-width="0.6"/>
<rect x="375" y="326.84" width="12.09" height="12.09" fill="#d1e5f0" stroke="#d9d9d9" stroke-width="0.6"/>
<rect x="387.09" y="326.84" width="12.09" height="12.09" fill="#f7f7f7" stroke="#d9d9d9" stroke-width="0.6"/>
<rect x="399.17" y="326.84" width="12.09" height="12.09" fill="#fddbc7" stroke="#d9d9d9" stroke-width="0.6"/>
<rect x="411.26" y="326.84" width="12.09" height="12.09" fill="#d1e5f0" stroke="#d9d9d9" stroke-width="0.6"/>
<rect x="423.74" y="327.24" width="11.29" height="11.29" fill="#000" stroke="#05254d" stroke-width="0.8"/>
<rect x="133.3" y="338.93" width="12.09" height="12.09" fill="#d1e5f0" stroke="#d9d9d9" stroke-width="0.6"/>
<rect x="145.39" y="338.93" width="12.09" height="12.09" fill="#d1e5f0" stroke="#d9d9d9" stroke-width="0.6"/>
<rect x="157.47" y="338.93" width="12.09" height="12.09" fill="#f7f7f7" stroke="#d9d9d9" stroke-width="0.6"/>
<rect x="169.56" y="338.93" width="12.09" height="12.09" fill="#f7f7f7" stroke="#d9d9d9" stroke-width="0.6"/>
<rect x="181.64" y="338.93" width="12.09" height="12.09" fill="#f4a582" stroke="#d9d9d9" stroke-width="0.6"/>
<rect x="193.73" y="338.93" width="12.09" height="12.09" fill="#fddbc7" stroke="#d9d9d9" stroke-width="0.6"/>
<rect x="205.81" y="338.93" width="12.09" height="12.09" fill="#fddbc7" stroke="#d9d9d9" stroke-width="0.6"/>
<rect x="217.9" y="338.93" width="12.09" height="12.09" fill="#f7f7f7" stroke="#d9d9d9" stroke-width="0.6"/>
<rect x="229.98" y="338.93" width="12.09" height="12.09" fill="#b2182b" stroke="#d9d9d9" stroke-width="0.6"/>
<rect x="242.07" y="338.93" width="12.09" height="12.09" fill="#fddbc7" stroke="#d9d9d9" stroke-width="0.6"/>
<rect x="254.15" y="338.93" width="12.09" height="12.09" fill="#b2182b" stroke="#d9d9d9" stroke-width="0.6"/>
<rect x="266.24" y="338.93" width="12.09" height="12.09" fill="#f4a582" stroke="#d9d9d9" stroke-width="0.6"/>
<rect x="278.32" y="338.93" width="12.09" height="12.09" fill="#92c5de" stroke="#d9d9d9" stroke-width="0.6"/>
<rect x="290.41" y="338.93" width="12.09" height="12.09" fill="#fddbc7" stroke="#d9d9d9" stroke-width="0.6"/>
<rect x="302.49" y="338.93" width="12.09" height="12.09" fill="#d1e5f0" stroke="#d9d9d9" stroke-width="0.6"/>
<rect x="314.58" y="338.93" width="12.09" height="12.09" fill="#f7f7f7" stroke="#d9d9d9" stroke-width="0.6"/>
<rect x="326.66" y="338.93" width="12.09" height="12.09" fill="#d6604d" stroke="#d9d9d9" stroke-width="0.6"/>
<rect x="338.75" y="338.93" width="12.09" height="12.09" fill="#fddbc7" stroke="#d9d9d9" stroke-width="0.6"/>
<rect x="350.83" y="338.93" width="12.09" height="12.09" fill="#f7f7f7" stroke="#d9d9d9" stroke-width="0.6"/>
<rect x="362.92" y="338.93" width="12.09" height="12.09" fill="#f7f7f7" stroke="#d9d9d9" stroke-width="0.6"/>
<rect x="375" y="338.93" width="12.09" height="12.09" fill="#f4a582" stroke="#d9d9d9" stroke-width="0.6"/>
<rect x="387.09" y="338.93" width="12.09" height="12.09" fill="#f4a582" stroke="#d9d9d9" stroke-width="0.6"/>
<rect x="399.17" y="338.93" width="12.09" height="12.09" fill="#f7f7f7" stroke="#d9d9d9" stroke-width="0.6"/>
<rect x="411.26" y="338.93" width="12.09" height="12.09" fill="#d6604d" stroke="#d9d9d9" stroke-width="0.6"/>
<rect x="423.34" y="338.93" width="12.09" height="12.09" fill="#fddbc7" stroke="#d9d9d9" stroke-width="0.6"/>
<rect x="435.82" y="339.32" width="11.29" height="11.29" fill="#000" stroke="#05254d" stroke-width="0.8"/>
<rect x="133.3" y="351.01" width="12.09" height="12.09" fill="#92c5de" stroke="#d9d9d9" stroke-width="0.6"/>
<rect x="145.39" y="351.01" width="12.09" height="12.09" fill="#d1e5f0" stroke="#d9d9d9" stroke-width="0.6"/>
<rect x="157.47" y="351.01" width="12.09" height="12.09" fill="#f4a582" stroke="#d9d9d9" stroke-width="0.6"/>
<rect x="169.56" y="351.01" width="12.09" height="12.09" fill="#d1e5f0" stroke="#d9d9d9" stroke-width="0.6"/>
<rect x="181.64" y="351.01" width="12.09" height="12.09" fill="#fddbc7" stroke="#d9d9d9" stroke-width="0.6"/>
<rect x="193.73" y="351.01" width="12.09" height="12.09" fill="#f7f7f7" stroke="#d9d9d9" stroke-width="0.6"/>
<rect x="205.81" y="351.01" width="12.09" height="12.09" fill="#fddbc7" stroke="#d9d9d9" stroke-width="0.6"/>
<rect x="217.9" y="351.01" width="12.09" height="12.09" fill="#d1e5f0" stroke="#d9d9d9" stroke-width="0.6"/>
<rect x="229.98" y="351.01" width="12.09" height="12.09" fill="#fddbc7" stroke="#d9d9d9" stroke-width="0.6"/>
<rect x="242.07" y="351.01" width="12.09" height="12.09" fill="#f7f7f7" stroke="#d9d9d9" stroke-width="0.6"/>
<rect x="254.15" y="351.01" width="12.09" height="12.09" fill="#fddbc7" stroke="#d9d9d9" stroke-width="0.6"/>
<rect x="266.24" y="351.01" width="12.09" height="12.09" fill="#fddbc7" stroke="#d9d9d9" stroke-width="0.6"/>
<rect x="278.32" y="351.01" width="12.09" height="12.09" fill="#d6604d" stroke="#d9d9d9" stroke-width="0.6"/>
<rect x="290.41" y="351.01" width="12.09" height="12.09" fill="#fddbc7" stroke="#d9d9d9" stroke-width="0.6"/>
<rect x="302.49" y="351.01" width="12.09" height="12.09" fill="#f7f7f7" stroke="#d9d9d9" stroke-width="0.6"/>
<rect x="314.58" y="351.01" width="12.09" height="12.09" fill="#92c5de" stroke="#d9d9d9" stroke-width="0.6"/>
<rect x="326.66" y="351.01" width="12.09" height="12.09" fill="#d6604d" stroke="#d9d9d9" stroke-width="0.6"/>
<rect x="338.75" y="351.01" width="12.09" height="12.09" fill="#f7f7f7" stroke="#d9d9d9" stroke-width="0.6"/>
<rect x="350.83" y="351.01" width="12.09" height="12.09" fill="#fddbc7" stroke="#d9d9d9" stroke-width="0.6"/>
<rect x="362.92" y="351.01" width="12.09" height="12.09" fill="#92c5de" stroke="#d9d9d9" stroke-width="0.6"/>
<rect x="375" y="351.01" width="12.09" height="12.09" fill="#f7f7f7" stroke="#d9d9d9" stroke-width="0.6"/>
<rect x="387.09" y="351.01" width="12.09" height="12.09" fill="#d1e5f0" stroke="#d9d9d9" stroke-width="0.6"/>
<rect x="399.17" y="351.01" width="12.09" height="12.09" fill="#f4a582" stroke="#d9d9d9" stroke-width="0.6"/>
<rect x="411.26" y="351.01" width="12.09" height="12.09" fill="#2166ac" stroke="#d9d9d9" stroke-width="0.6"/>
<rect x="423.34" y="351.01" width="12.09" height="12.09" fill="#f7f7f7" stroke="#d9d9d9" stroke-width="0.6"/>
<rect x="435.43" y="351.01" width="12.09" height="12.09" fill="#f4a582" stroke="#d9d9d9" stroke-width="0.6"/>
<rect x="447.91" y="351.41" width="11.29" height="11.29" fill="#000" stroke="#05254d" stroke-width="0.8"/>
<rect x="133.3" y="363.1" width="12.09" height="12.09" fill="#d1e5f0" stroke="#d9d9d9" stroke-width="0.6"/>
<rect x="145.39" y="363.1" width="12.09" height="12.09" fill="#92c5de" stroke="#d9d9d9" stroke-width="0.6"/>
<rect x="157.47" y="363.1" width="12.09" height="12.09" fill="#d1e5f0" stroke="#d9d9d9" stroke-width="0.6"/>
<rect x="169.56" y="363.1" width="12.09" height="12.09" fill="#92c5de" stroke="#d9d9d9" stroke-width="0.6"/>
<rect x="181.64" y="363.1" width="12.09" height="12.09" fill="#d1e5f0" stroke="#d9d9d9" stroke-width="0.6"/>
<rect x="193.73" y="363.1" width="12.09" height="12.09" fill="#f7f7f7" stroke="#d9d9d9" stroke-width="0.6"/>
<rect x="205.81" y="363.1" width="12.09" height="12.09" fill="#d1e5f0" stroke="#d9d9d9" stroke-width="0.6"/>
<rect x="217.9" y="363.1" width="12.09" height="12.09" fill="#fddbc7" stroke="#d9d9d9" stroke-width="0.6"/>
<rect x="229.98" y="363.1" width="12.09" height="12.09" fill="#f7f7f7" stroke="#d9d9d9" stroke-width="0.6"/>
<rect x="242.07" y="363.1" width="12.09" height="12.09" fill="#d1e5f0" stroke="#d9d9d9" stroke-width="0.6"/>
<rect x="254.15" y="363.1" width="12.09" height="12.09" fill="#d1e5f0" stroke="#d9d9d9" stroke-width="0.6"/>
<rect x="266.24" y="363.1" width="12.09" height="12.09" fill="#92c5de" stroke="#d9d9d9" stroke-width="0.6"/>
<rect x="278.32" y="363.1" width="12.09" height="12.09" fill="#f7f7f7" stroke="#d9d9d9" stroke-width="0.6"/>
<rect x="290.41" y="363.1" width="12.09" height="12.09" fill="#d1e5f0" stroke="#d9d9d9" stroke-width="0.6"/>
<rect x="302.49" y="363.1" width="12.09" height="12.09" fill="#fddbc7" stroke="#d9d9d9" stroke-width="0.6"/>
<rect x="314.58" y="363.1" width="12.09" height="12.09" fill="#fddbc7" stroke="#d9d9d9" stroke-width="0.6"/>
<rect x="326.66" y="363.1" width="12.09" height="12.09" fill="#d1e5f0" stroke="#d9d9d9" stroke-width="0.6"/>
<rect x="338.75" y="363.1" width="12.09" height="12.09" fill="#92c5de" stroke="#d9d9d9" stroke-width="0.6"/>
<rect x="350.83" y="363.1" width="12.09" height="12.09" fill="#fddbc7" stroke="#d9d9d9" stroke-width="0.6"/>
<rect x="362.92" y="363.1" width="12.09" height="12.09" fill="#f4a582" stroke="#d9d9d9" stroke-width="0.6"/>
<rect x="375" y="363.1" width="12.09" height="12.09" fill="#d1e5f0" stroke="#d9d9d9" stroke-width="0.6"/>
<rect x="387.09" y="363.1" width="12.09" height="12.09" fill="#d1e5f0" stroke="#d9d9d9" stroke-width="0.6"/>
<rect x="399.17" y="363.1" width="12.09" height="12.09" fill="#f7f7f7" stroke="#d9d9d9" stroke-width="0.6"/>
<rect x="411.26" y="363.1" width="12.09" height="12.09" fill="#f7f7f7" stroke="#d9d9d9" stroke-width="0.6"/>
<rect x="423.34" y="363.1" width="12.09" height="12.09" fill="#d1e5f0" stroke="#d9d9d9" stroke-width="0.6"/>
<rect x="435.43" y="363.1" width="12.09" height="12.09" fill="#fddbc7" stroke="#d9d9d9" stroke-width="0.6"/>
<rect x="447.51" y="363.1" width="12.09" height="12.09" fill="#92c5de" stroke="#d9d9d9" stroke-width="0.6"/>
<rect x="460" y="363.5" width="11.29" height="11.29" fill="#000" stroke="#05254d" stroke-width="0.8"/>
<rect x="133.3" y="375.18" width="12.09" height="12.09" fill="#d1e5f0" stroke="#d9d9d9" stroke-width="0.6"/>
<rect x="145.39" y="375.18" width="12.09" height="12.09" fill="#4393c3" stroke="#d9d9d9" stroke-width="0.6"/>
<rect x="157.47" y="375.18" width="12.09" height="12.09" fill="#d1e5f0" stroke="#d9d9d9" stroke-width="0.6"/>
<rect x="169.56" y="375.18" width="12.09" height="12.09" fill="#92c5de" stroke="#d9d9d9" stroke-width="0.6"/>
<rect x="181.64" y="375.18" width="12.09" height="12.09" fill="#fddbc7" stroke="#d9d9d9" stroke-width="0.6"/>
<rect x="193.73" y="375.18" width="12.09" height="12.09" fill="#fddbc7" stroke="#d9d9d9" stroke-width="0.6"/>
<rect x="205.81" y="375.18" width="12.09" height="12.09" fill="#f7f7f7" stroke="#d9d9d9" stroke-width="0.6"/>
<rect x="217.9" y="375.18" width="12.09" height="12.09" fill="#92c5de" stroke="#d9d9d9" stroke-width="0.6"/>
<rect x="229.98" y="375.18" width="12.09" height="12.09" fill="#f4a582" stroke="#d9d9d9" stroke-width="0.6"/>
<rect x="242.07" y="375.18" width="12.09" height="12.09" fill="#d6604d" stroke="#d9d9d9" stroke-width="0.6"/>
<rect x="254.15" y="375.18" width="12.09" height="12.09" fill="#fddbc7" stroke="#d9d9d9" stroke-width="0.6"/>
<rect x="266.24" y="375.18" width="12.09" height="12.09" fill="#f4a582" stroke="#d9d9d9" stroke-width="0.6"/>
<rect x="278.32" y="375.18" width="12.09" height="12.09" fill="#4393c3" stroke="#d9d9d9" stroke-width="0.6"/>
<rect x="290.41" y="375.18" width="12.09" height="12.09" fill="#fddbc7" stroke="#d9d9d9" stroke-width="0.6"/>
<rect x="302.49" y="375.18" width="12.09" height="12.09" fill="#d1e5f0" stroke="#d9d9d9" stroke-width="0.6"/>
<rect x="314.58" y="375.18" width="12.09" height="12.09" fill="#d1e5f0" stroke="#d9d9d9" stroke-width="0.6"/>
<rect x="326.66" y="375.18" width="12.09" height="12.09" fill="#d1e5f0" stroke="#d9d9d9" stroke-width="0.6"/>
<rect x="338.75" y="375.18" width="12.09" height="12.09" fill="#f7f7f7" stroke="#d9d9d9" stroke-width="0.6"/>
<rect x="350.83" y="375.18" width="12.09" height="12.09" fill="#4393c3" stroke="#d9d9d9" stroke-width="0.6"/>
<rect x="362.92" y="375.18" width="12.09" height="12.09" fill="#f7f7f7" stroke="#d9d9d9" stroke-width="0.6"/>
<rect x="375" y="375.18" width="12.09" height="12.09" fill="#f4a582" stroke="#d9d9d9" stroke-width="0.6"/>
<rect x="387.09" y="375.18" width="12.09" height="12.09" fill="#fddbc7" stroke="#d9d9d9" stroke-width="0.6"/>
<rect x="399.17" y="375.18" width="12.09" height="12.09" fill="#f7f7f7" stroke="#d9d9d9" stroke-width="0.6"/>
<rect x="411.26" y="375.18" width="12.09" height="12.09" fill="#d1e5f0" stroke="#d9d9d9" stroke-width="0.6"/>
<rect x="423.34" y="375.18" width="12.09" height="12.09" fill="#fddbc7" stroke="#d9d9d9" stroke-width="0.6"/>
<rect x="435.43" y="375.18" width="12.09" height="12.09" fill="#d6604d" stroke="#d9d9d9" stroke-width="0.6"/>
<rect x="447.51" y="375.18" width="12.09" height="12.09" fill="#fddbc7" stroke="#d9d9d9" stroke-width="0.6"/>
<rect x="459.6" y="375.18" width="12.09" height="12.09" fill="#d1e5f0" stroke="#d9d9d9" stroke-width="0.6"/>
<rect x="472.08" y="375.58" width="11.29" height="11.29" fill="#000" stroke="#05254d" stroke-width="0.8"/>
<rect x="133.3" y="387.27" width="12.09" height="12.09" fill="#f7f7f7" stroke="#d9d9d9" stroke-width="0.6"/>
<rect x="145.39" y="387.27" width="12.09" height="12.09" fill="#d1e5f0" stroke="#d9d9d9" stroke-width="0.6"/>
<rect x="157.47" y="387.27" width="12.09" height="12.09" fill="#f4a582" stroke="#d9d9d9" stroke-width="0.6"/>
<rect x="169.56" y="387.27" width="12.09" height="12.09" fill="#f7f7f7" stroke="#d9d9d9" stroke-width="0.6"/>
<rect x="181.64" y="387.27" width="12.09" height="12.09" fill="#fddbc7" stroke="#d9d9d9" stroke-width="0.6"/>
<rect x="193.73" y="387.27" width="12.09" height="12.09" fill="#f7f7f7" stroke="#d9d9d9" stroke-width="0.6"/>
<rect x="205.81" y="387.27" width="12.09" height="12.09" fill="#f7f7f7" stroke="#d9d9d9" stroke-width="0.6"/>
<rect x="217.9" y="387.27" width="12.09" height="12.09" fill="#fddbc7" stroke="#d9d9d9" stroke-width="0.6"/>
<rect x="229.98" y="387.27" width="12.09" height="12.09" fill="#f4a582" stroke="#d9d9d9" stroke-width="0.6"/>
<rect x="242.07" y="387.27" width="12.09" height="12.09" fill="#f7f7f7" stroke="#d9d9d9" stroke-width="0.6"/>
<rect x="254.15" y="387.27" width="12.09" height="12.09" fill="#d1e5f0" stroke="#d9d9d9" stroke-width="0.6"/>
<rect x="266.24" y="387.27" width="12.09" height="12.09" fill="#f7f7f7" stroke="#d9d9d9" stroke-width="0.6"/>
<rect x="278.32" y="387.27" width="12.09" height="12.09" fill="#b2182b" stroke="#d9d9d9" stroke-width="0.6"/>
<rect x="290.41" y="387.27" width="12.09" height="12.09" fill="#f7f7f7" stroke="#d9d9d9" stroke-width="0.6"/>
<rect x="302.49" y="387.27" width="12.09" height="12.09" fill="#fddbc7" stroke="#d9d9d9" stroke-width="0.6"/>
<rect x="314.58" y="387.27" width="12.09" height="12.09" fill="#fddbc7" stroke="#d9d9d9" stroke-width="0.6"/>
<rect x="326.66" y="387.27" width="12.09" height="12.09" fill="#fddbc7" stroke="#d9d9d9" stroke-width="0.6"/>
<rect x="338.75" y="387.27" width="12.09" height="12.09" fill="#fddbc7" stroke="#d9d9d9" stroke-width="0.6"/>
<rect x="350.83" y="387.27" width="12.09" height="12.09" fill="#f4a582" stroke="#d9d9d9" stroke-width="0.6"/>
<rect x="362.92" y="387.27" width="12.09" height="12.09" fill="#d1e5f0" stroke="#d9d9d9" stroke-width="0.6"/>
<rect x="375" y="387.27" width="12.09" height="12.09" fill="#d1e5f0" stroke="#d9d9d9" stroke-width="0.6"/>
<rect x="387.09" y="387.27" width="12.09" height="12.09" fill="#f7f7f7" stroke="#d9d9d9" stroke-width="0.6"/>
<rect x="399.17" y="387.27" width="12.09" height="12.09" fill="#f4a582" stroke="#d9d9d9" stroke-width="0.6"/>
<rect x="411.26" y="387.27" width="12.09" height="12.09" fill="#f7f7f7" stroke="#d9d9d9" stroke-width="0.6"/>
<rect x="423.34" y="387.27" width="12.09" height="12.09" fill="#f7f7f7" stroke="#d9d9d9" stroke-width="0.6"/>
<rect x="435.43" y="387.27" width="12.09" height="12.09" fill="#f4a582" stroke="#d9d9d9" stroke-width="0.6"/>
<rect x="447.51" y="387.27" width="12.09" height="12.09" fill="#d6604d" stroke="#d9d9d9" stroke-width="0.6"/>
<rect x="459.6" y="387.27" width="12.09" height="12.09" fill="#f7f7f7" stroke="#d9d9d9" stroke-width="0.6"/>
<rect x="471.68" y="387.27" width="12.09" height="12.09" fill="#f7f7f7" stroke="#d9d9d9" stroke-width="0.6"/>
<rect x="484.17" y="387.67" width="11.29" height="11.29" fill="#000" stroke="#05254d" stroke-width="0.8"/>
<rect x="133.3" y="399.35" width="12.09" height="12.09" fill="#f7f7f7" stroke="#d9d9d9" stroke-width="0.6"/>
<rect x="145.39" y="399.35" width="12.09" height="12.09" fill="#92c5de" stroke="#d9d9d9" stroke-width="0.6"/>
<rect x="157.47" y="399.35" width="12.09" height="12.09" fill="#92c5de" stroke="#d9d9d9" stroke-width="0.6"/>
<rect x="169.56" y="399.35" width="12.09" height="12.09" fill="#d1e5f0" stroke="#d9d9d9" stroke-width="0.6"/>
<rect x="181.64" y="399.35" width="12.09" height="12.09" fill="#f7f7f7" stroke="#d9d9d9" stroke-width="0.6"/>
<rect x="193.73" y="399.35" width="12.09" height="12.09" fill="#f7f7f7" stroke="#d9d9d9" stroke-width="0.6"/>
<rect x="205.81" y="399.35" width="12.09" height="12.09" fill="#d1e5f0" stroke="#d9d9d9" stroke-width="0.6"/>
<rect x="217.9" y="399.35" width="12.09" height="12.09" fill="#92c5de" stroke="#d9d9d9" stroke-width="0.6"/>
<rect x="229.98" y="399.35" width="12.09" height="12.09" fill="#d1e5f0" stroke="#d9d9d9" stroke-width="0.6"/>
<rect x="242.07" y="399.35" width="12.09" height="12.09" fill="#d1e5f0" stroke="#d9d9d9" stroke-width="0.6"/>
<rect x="254.15" y="399.35" width="12.09" height="12.09" fill="#f7f7f7" stroke="#d9d9d9" stroke-width="0.6"/>
<rect x="266.24" y="399.35" width="12.09" height="12.09" fill="#d1e5f0" stroke="#d9d9d9" stroke-width="0.6"/>
<rect x="278.32" y="399.35" width="12.09" height="12.09" fill="#f7f7f7" stroke="#d9d9d9" stroke-width="0.6"/>
<rect x="290.41" y="399.35" width="12.09" height="12.09" fill="#fddbc7" stroke="#d9d9d9" stroke-width="0.6"/>
<rect x="302.49" y="399.35" width="12.09" height="12.09" fill="#fddbc7" stroke="#d9d9d9" stroke-width="0.6"/>
<rect x="314.58" y="399.35" width="12.09" height="12.09" fill="#d1e5f0" stroke="#d9d9d9" stroke-width="0.6"/>
<rect x="326.66" y="399.35" width="12.09" height="12.09" fill="#92c5de" stroke="#d9d9d9" stroke-width="0.6"/>
<rect x="338.75" y="399.35" width="12.09" height="12.09" fill="#fddbc7" stroke="#d9d9d9" stroke-width="0.6"/>
<rect x="350.83" y="399.35" width="12.09" height="12.09" fill="#f7f7f7" stroke="#d9d9d9" stroke-width="0.6"/>
<rect x="362.92" y="399.35" width="12.09" height="12.09" fill="#d1e5f0" stroke="#d9d9d9" stroke-width="0.6"/>
<rect x="375" y="399.35" width="12.09" height="12.09" fill="#f4a582" stroke="#d9d9d9" stroke-width="0.6"/>
<rect x="387.09" y="399.35" width="12.09" height="12.09" fill="#fddbc7" stroke="#d9d9d9" stroke-width="0.6"/>
<rect x="399.17" y="399.35" width="12.09" height="12.09" fill="#f7f7f7" stroke="#d9d9d9" stroke-width="0.6"/>
<rect x="411.26" y="399.35" width="12.09" height="12.09" fill="#f7f7f7" stroke="#d9d9d9" stroke-width="0.6"/>
<rect x="423.34" y="399.35" width="12.09" height="12.09" fill="#f7f7f7" stroke="#d9d9d9" stroke-width="0.6"/>
<rect x="435.43" y="399.35" width="12.09" height="12.09" fill="#f7f7f7" stroke="#d9d9d9" stroke-width="0.6"/>
<rect x="447.51" y="399.35" width="12.09" height="12.09" fill="#4393c3" stroke="#d9d9d9" stroke-width="0.6"/>
<rect x="459.6" y="399.35" width="12.09" height="12.09" fill="#f7f7f7" stroke="#d9d9d9" stroke-width="0.6"/>
<rect x="471.68" y="399.35" width="12.09" height="12.09" fill="#d1e5f0" stroke="#d9d9d9" stroke-width="0.6"/>
<rect x="483.77" y="399.35" width="12.09" height="12.09" fill="#d1e5f0" stroke="#d9d9d9" stroke-width="0.6"/>
<rect x="496.25" y="399.75" width="11.29" height="11.29" fill="#000" stroke="#05254d" stroke-width="0.8"/>
<path d="M133.3 35.8V411.44H507.94" fill="none" stroke="#4d4d4d" stroke-width="1"/>
<g font-size="14.4" fill="#262626" text-anchor="end">
<text x="126.9" y="47.94">lV1</text>
<text x="126.9" y="60.03">rV1</text>
<text x="126.9" y="72.11">lSMC</text>
<text x="126.9" y="84.2">rSMC</text>
<text x="126.9" y="96.28">lIFJ</text>
<text x="126.9" y="108.37">rIFJ</text>
<text x="126.9" y="120.45">lIPS</text>
<text x="126.9" y="132.54">rIPS</text>
<text x="126.9" y="144.62">lFEF</text>
<text x="126.9" y="156.71">rFEF</text>
<text x="126.9" y="168.79">lSEF</text>
<text x="126.9" y="180.88">rSEF</text>
<text x="126.9" y="192.96">PCC</text>
<text x="126.9" y="205.05">mPFC</text>
<text x="126.9" y="217.13">lAng</text>
<text x="126.9" y="229.22">rAng</text>
<text x="126.9" y="241.3">lPMFG</text>
<text x="126.9" y="253.39">rPMFG</text>
<text x="126.9" y="265.47">lIPL</text>
<text x="126.9" y="277.56">rIPL</text>
<text x="126.9" y="289.64">lOrb</text>
<text x="126.9" y="301.73">rOrb</text>
<text x="126.9" y="313.81">lMTG</text>
<text x="126.9" y="325.9">rMTG</text>
<text x="126.9" y="337.98">lAMFG</text>
<text x="126.9" y="350.07">rAMFG</text>
<text x="126.9" y="362.15">lIns</text>
<text x="126.9" y="374.24">rIns</text>
<text x="126.9" y="386.32">dACC</text>
<text x="126.9" y="398.41">lSup</text>
<text x="126.9" y="410.49">rSup</text>
</g>
<g font-size="14.4" fill="#262626" text-anchor="end">
<text transform="translate(144.54 417.74) rotate(-90)">lV1</text>
<text transform="translate(156.63 417.74) rotate(-90)">rV1</text>
<text transform="translate(168.71 417.74) rotate(-90)">lSMC</text>
<text transform="translate(180.8 417.74) rotate(-90)">rSMC</text>
<text transform="translate(192.88 417.74) rotate(-90)">lIFJ</text>
<text transform="translate(204.97 417.74) rotate(-90)">rIFJ</text>
<text transform="translate(217.05 417.74) rotate(-90)">lIPS</text>
<text transform="translate(229.14 417.74) rotate(-90)">rIPS</text>
<text transform="translate(241.22 417.74) rotate(-90)">lFEF</text>
<text transform="translate(253.31 417.74) rotate(-90)">rFEF</text>
<text transform="translate(265.39 417.74) rotate(-90)">lSEF</text>
<text transform="translate(277.48 417.74) rotate(-90)">rSEF</text>
<text transform="translate(289.56 417.74) rotate(-90)">PCC</text>
<text transform="translate(301.65 417.74) rotate(-90)">mPFC</text>
<text transform="translate(313.73 417.74) rotate(-90)">lAng</text>
<text transform="translate(325.82 417.74) rotate(-90)">rAng</text>
<text transform="translate(337.9 417.74) rotate(-90)">lPMFG</text>
<text transform="translate(349.99 417.74) rotate(-90)">rPMFG</text>
<text transform="translate(362.07 417.74) rotate(-90)">lIPL</text>
<text transform="translate(374.16 417.74) rotate(-90)">rIPL</text>
<text transform="translate(386.24 417.74) rotate(-90)">lOrb</text>
<text transform="translate(398.33 417.74) rotate(-90)">rOrb</text>
<text transform="translate(410.41 417.74) rotate(-90)">lMTG</text>
<text transform="translate(422.5 417.74) rotate(-90)">rMTG</text>
<text transform="translate(434.58 417.74) rotate(-90)">lAMFG</text>
<text transform="translate(446.67 417.74) rotate(-90)">rAMFG</text>
<text transform="translate(458.75 417.74) rotate(-90)">lIns</text>
<text transform="translate(470.84 417.74) rotate(-90)">rIns</text>
<text transform="translate(482.92 417.74) rotate(-90)">dACC</text>
<text transform="translate(495.01 417.74) rotate(-90)">lSup</text>
<text transform="translate(507.09 417.74) rotate(-90)">rSup</text>
</g>
<rect x="273.3" y="296.75" width="21.1" height="21.1" rx="1.2" fill="none" stroke="#c00000" stroke-width="3.5"/>
</g>
<g id="colorbar">
<rect x="522.3" y="36.3" width="23.9" height="34.4" fill="#67001f"/>
<rect x="522.3" y="70.4" width="23.9" height="34.4" fill="#b2182b"/>
<rect x="522.3" y="104.5" width="23.9" height="34.4" fill="#d6604d"/>
<rect x="522.3" y="138.6" width="23.9" height="34.4" fill="#f4a582"/>
<rect x="522.3" y="172.7" width="23.9" height="34.4" fill="#fddbc7"/>
<rect x="522.3" y="206.8" width="23.9" height="34.4" fill="#f7f7f7"/>
<rect x="522.3" y="240.9" width="23.9" height="34.4" fill="#d1e5f0"/>
<rect x="522.3" y="275" width="23.9" height="34.4" fill="#92c5de"/>
<rect x="522.3" y="309.1" width="23.9" height="34.4" fill="#4393c3"/>
<rect x="522.3" y="343.2" width="23.9" height="34.4" fill="#2166ac"/>
<rect x="522.3" y="377.3" width="23.9" height="34.4" fill="#053061"/>
<rect x="522.3" y="36.3" width="23.9" height="375.1" fill="none" stroke="#333" stroke-width="0.9"/>
<g font-size="12" fill="#262626">
<path d="M542.7 70.7H546.2" stroke="#333" stroke-width="0.9"/>
<text x="552" y="75">3</text>
<path d="M542.7 121.7H546.2" stroke="#333" stroke-width="0.9"/>
<text x="552" y="126">2</text>
<path d="M542.7 172.7H546.2" stroke="#333" stroke-width="0.9"/>
<text x="552" y="177">1</text>
<path d="M542.7 223.7H546.2" stroke="#333" stroke-width="0.9"/>
<text x="552" y="228">0</text>
<path d="M542.7 274.7H546.2" stroke="#333" stroke-width="0.9"/>
<text x="551.5" y="279">-1</text>
<path d="M542.7 325.7H546.2" stroke="#333" stroke-width="0.9"/>
<text x="551.5" y="330">-2</text>
<path d="M542.7 376.7H546.2" stroke="#333" stroke-width="0.9"/>
<text x="551.5" y="381">-3</text>
</g></g>
<defs>
<radialGradient id="gNode" cx="0.42" cy="0.36" r="0.7"><stop offset="0" stop-color="#1b86d0"/><stop offset="0.55" stop-color="#0d66ae"/><stop offset="1" stop-color="#0a4680"/></radialGradient>
<radialGradient id="gNodeL" cx="0.45" cy="0.4" r="0.7"><stop offset="0" stop-color="#69aee0"/><stop offset="0.6" stop-color="#6aa3cf"/><stop offset="1" stop-color="#7d9fbb"/></radialGradient>
<radialGradient id="gB1" cx="0.45" cy="0.38" r="0.75"><stop offset="0" stop-color="#e4e4e4"/><stop offset="0.6" stop-color="#d6d6d6"/><stop offset="1" stop-color="#bcbcbc"/></radialGradient>
<linearGradient id="gB2l" x1="0" x2="1"><stop offset="0" stop-color="#d2d2d2"/><stop offset="0.4" stop-color="#ececec"/><stop offset="0.8" stop-color="#e6e6e6"/><stop offset="1" stop-color="#d0d0d0"/></linearGradient>
<linearGradient id="gB2r" x1="0" x2="1"><stop offset="0" stop-color="#d0d0d0"/><stop offset="0.2" stop-color="#e6e6e6"/><stop offset="0.6" stop-color="#eeeeee"/><stop offset="1" stop-color="#d0d0d0"/></linearGradient>
<linearGradient id="gB3l" x1="0" x2="1"><stop offset="0" stop-color="#e0e0e0"/><stop offset="0.5" stop-color="#e6e6e6"/><stop offset="1" stop-color="#dedede"/></linearGradient>
<linearGradient id="gB3r" x1="0" x2="1"><stop offset="0" stop-color="#dedede"/><stop offset="0.5" stop-color="#e6e6e6"/><stop offset="1" stop-color="#e0e0e0"/></linearGradient>
<filter id="soft" x="-5%" y="-5%" width="110%" height="110%"><feGaussianBlur stdDeviation="0.6"/></filter>
<linearGradient id="gB1v" x1="0" y1="0" x2="0.25" y2="1"><stop offset="0" stop-color="#e3e3e3"/><stop offset="0.55" stop-color="#d7d7d7"/><stop offset="1" stop-color="#c4c4c4"/></linearGradient>
<filter id="soft3" x="-20%" y="-20%" width="140%" height="140%"><feGaussianBlur stdDeviation="2.4"/></filter>
<filter id="soft2" x="-10%" y="-10%" width="120%" height="120%"><feGaussianBlur stdDeviation="1.4"/></filter>
</defs>
<g id="brain1">
<clipPath id="cb1"><path d="M313.79 41.62C318.94 42.07 324.82 43.82 329.23 46.03C333.64 48.23 336.95 51.72 340.25 54.85C343.56 57.97 346.32 61.09 349.07 64.77C351.83 68.44 354.59 73.04 356.79 76.9C359 80.76 361.11 84.61 362.3 87.92C363.5 91.23 364.14 93.8 363.96 96.74C363.77 99.68 362.76 103.36 361.2 105.56C359.64 107.77 358.08 109.05 354.59 109.97C351.1 110.89 344.48 110.34 340.25 111.07C336.03 111.81 332.9 112.91 329.23 114.38C325.55 115.85 321.88 118.06 318.2 119.9C314.53 121.73 310.85 123.75 307.18 125.41C303.5 127.06 299.46 128.9 296.15 129.82C292.84 130.74 290.09 131.1 287.33 130.92C284.58 130.74 281.54 130 279.61 128.72C277.68 127.43 276.31 125.04 275.76 123.2C275.2 121.37 275.66 119.34 276.31 117.69C276.95 116.04 280.35 113.83 279.61 113.28C278.88 112.73 275.02 113.92 271.9 114.38C268.77 114.84 264.18 116.04 260.87 116.04C257.56 116.04 254.81 115.39 252.05 114.38C249.29 113.37 246.45 111.81 244.33 109.97C242.22 108.13 240.57 105.93 239.37 103.36C238.18 100.78 237.35 97.66 237.17 94.54C236.98 91.41 237.44 87.74 238.27 84.61C239.1 81.49 240.38 78.73 242.13 75.79C243.87 72.85 246.17 69.73 248.74 66.97C251.32 64.22 254.26 61.64 257.56 59.26C260.87 56.87 264.36 54.66 268.59 52.64C272.82 50.62 277.96 48.69 282.92 47.13C287.88 45.57 293.21 44.19 298.36 43.27C303.5 42.35 308.65 41.16 313.79 41.62Z"/></clipPath>
<path d="M313.79 41.62C318.94 42.07 324.82 43.82 329.23 46.03C333.64 48.23 336.95 51.72 340.25 54.85C343.56 57.97 346.32 61.09 349.07 64.77C351.83 68.44 354.59 73.04 356.79 76.9C359 80.76 361.11 84.61 362.3 87.92C363.5 91.23 364.14 93.8 363.96 96.74C363.77 99.68 362.76 103.36 361.2 105.56C359.64 107.77 358.08 109.05 354.59 109.97C351.1 110.89 344.48 110.34 340.25 111.07C336.03 111.81 332.9 112.91 329.23 114.38C325.55 115.85 321.88 118.06 318.2 119.9C314.53 121.73 310.85 123.75 307.18 125.41C303.5 127.06 299.46 128.9 296.15 129.82C292.84 130.74 290.09 131.1 287.33 130.92C284.58 130.74 281.54 130 279.61 128.72C277.68 127.43 276.31 125.04 275.76 123.2C275.2 121.37 275.66 119.34 276.31 117.69C276.95 116.04 280.35 113.83 279.61 113.28C278.88 112.73 275.02 113.92 271.9 114.38C268.77 114.84 264.18 116.04 260.87 116.04C257.56 116.04 254.81 115.39 252.05 114.38C249.29 113.37 246.45 111.81 244.33 109.97C242.22 108.13 240.57 105.93 239.37 103.36C238.18 100.78 237.35 97.66 237.17 94.54C236.98 91.41 237.44 87.74 238.27 84.61C239.1 81.49 240.38 78.73 242.13 75.79C243.87 72.85 246.17 69.73 248.74 66.97C251.32 64.22 254.26 61.64 257.56 59.26C260.87 56.87 264.36 54.66 268.59 52.64C272.82 50.62 277.96 48.69 282.92 47.13C287.88 45.57 293.21 44.19 298.36 43.27C303.5 42.35 308.65 41.16 313.79 41.62Z" fill="url(#gB1v)" stroke="#c6c6c6" stroke-width="0.7" filter="url(#soft)"/>
<g clip-path="url(#cb1)">
<path d="M236.62 96.74C237.17 98.21 238.09 102.81 239.92 105.56C241.76 108.32 244.15 111.35 247.64 113.28C251.13 115.21 256.46 116.77 260.87 117.14C265.28 117.51 270.98 116.04 274.1 115.49C277.23 114.93 278.7 114.11 279.61 113.83" fill="none" stroke="#9e9e9e" stroke-width="7" opacity="0.55" filter="url(#soft3)"/>
<path d="M275.2 123.2C275.94 124.31 277.23 128.35 279.61 129.82C282 131.29 286.05 132.21 289.54 132.02C293.03 131.84 296.52 130.37 300.56 128.72C304.6 127.06 309.38 124.31 313.79 122.1C318.2 119.9 322.61 117.23 327.02 115.49C331.43 113.74 335.66 112.36 340.25 111.63C344.85 110.89 350.91 112.09 354.59 111.07C358.26 110.06 360.56 107.95 362.3 105.56C364.05 103.17 364.6 98.21 365.06 96.74" fill="none" stroke="#9e9e9e" stroke-width="7" opacity="0.55" filter="url(#soft3)"/>
<path d="M246.54 71.38C248.56 69.55 254.07 63.48 258.67 60.36C263.26 57.23 268.59 54.85 274.1 52.64C279.61 50.44 285.86 48.51 291.74 47.13C297.62 45.75 303.87 44.37 309.38 44.37C314.9 44.37 322.25 46.67 324.82 47.13" fill="none" stroke="#f2f2f2" stroke-width="6" opacity="0.6" filter="url(#soft3)"/>
<path d="M278.51 113.83C279.98 112.64 284.02 109.15 287.33 106.66C290.64 104.18 294.68 101.52 298.36 98.95C302.03 96.37 306.07 93.99 309.38 91.23C312.69 88.47 315.81 84.98 318.2 82.41C320.59 79.84 322.8 76.9 323.72 75.79" fill="none" stroke="#a9a9a9" stroke-width="2.2" stroke-linecap="round" opacity="0.6" filter="url(#soft2)"/>
<path d="M278.51 113.83C279.98 112.64 284.02 109.15 287.33 106.66C290.64 104.18 294.68 101.52 298.36 98.95C302.03 96.37 306.07 93.99 309.38 91.23C312.69 88.47 315.81 84.98 318.2 82.41C320.59 79.84 322.8 76.9 323.72 75.79" fill="none" stroke="#a2a2a2" stroke-width="0.7" stroke-linecap="round" opacity="0.55" filter="url(#soft)"/>
<path d="M273 92.33C274.47 92.52 278.7 93.8 281.82 93.43C284.94 93.07 288.43 91.32 291.74 90.13C295.05 88.93 300.01 86.91 301.66 86.27" fill="none" stroke="#a9a9a9" stroke-width="3.0" stroke-linecap="round" opacity="0.6" filter="url(#soft2)"/>
<path d="M273 92.33C274.47 92.52 278.7 93.8 281.82 93.43C284.94 93.07 288.43 91.32 291.74 90.13C295.05 88.93 300.01 86.91 301.66 86.27" fill="none" stroke="#a2a2a2" stroke-width="0.7" stroke-linecap="round" opacity="0.55" filter="url(#soft)"/>
<path d="M300.56 49.33C300.29 51.35 299.74 57.97 298.91 61.46C298.08 64.95 296.8 67.52 295.6 70.28C294.41 73.04 292.39 76.71 291.74 78" fill="none" stroke="#a9a9a9" stroke-width="1.8" stroke-linecap="round" opacity="0.6" filter="url(#soft2)"/>
<path d="M300.56 49.33C300.29 51.35 299.74 57.97 298.91 61.46C298.08 64.95 296.8 67.52 295.6 70.28C294.41 73.04 292.39 76.71 291.74 78" fill="none" stroke="#a2a2a2" stroke-width="0.7" stroke-linecap="round" opacity="0.55" filter="url(#soft)"/>
<path d="M257.56 70.28C259.03 69.36 263.08 66.7 266.38 64.77C269.69 62.84 273.92 59.9 277.41 58.7C280.9 57.51 285.68 57.79 287.33 57.6" fill="none" stroke="#a9a9a9" stroke-width="1.8" stroke-linecap="round" opacity="0.6" filter="url(#soft2)"/>
<path d="M257.56 70.28C259.03 69.36 263.08 66.7 266.38 64.77C269.69 62.84 273.92 59.9 277.41 58.7C280.9 57.51 285.68 57.79 287.33 57.6" fill="none" stroke="#a2a2a2" stroke-width="0.7" stroke-linecap="round" opacity="0.55" filter="url(#soft)"/>
<path d="M253.7 86.82C255.27 85.9 259.68 83.14 263.08 81.31C266.48 79.47 270.61 77.54 274.1 75.79C277.59 74.05 282.37 71.66 284.02 70.83" fill="none" stroke="#a9a9a9" stroke-width="1.8" stroke-linecap="round" opacity="0.6" filter="url(#soft2)"/>
<path d="M253.7 86.82C255.27 85.9 259.68 83.14 263.08 81.31C266.48 79.47 270.61 77.54 274.1 75.79C277.59 74.05 282.37 71.66 284.02 70.83" fill="none" stroke="#a2a2a2" stroke-width="0.7" stroke-linecap="round" opacity="0.55" filter="url(#soft)"/>
<path d="M287.33 57.6C286.96 58.89 285.03 62.93 285.13 65.32C285.22 67.71 287.42 70.83 287.88 71.93" fill="none" stroke="#a9a9a9" stroke-width="1.6" stroke-linecap="round" opacity="0.6" filter="url(#soft2)"/>
<path d="M287.33 57.6C286.96 58.89 285.03 62.93 285.13 65.32C285.22 67.71 287.42 70.83 287.88 71.93" fill="none" stroke="#a2a2a2" stroke-width="0.7" stroke-linecap="round" opacity="0.55" filter="url(#soft)"/>
<path d="M313.79 64.77C315.45 64.49 320.22 63.21 323.72 63.11C327.21 63.02 331.89 63.39 334.74 64.22C337.59 65.04 339.79 67.43 340.8 68.08" fill="none" stroke="#a9a9a9" stroke-width="1.8" stroke-linecap="round" opacity="0.6" filter="url(#soft2)"/>
<path d="M313.79 64.77C315.45 64.49 320.22 63.21 323.72 63.11C327.21 63.02 331.89 63.39 334.74 64.22C337.59 65.04 339.79 67.43 340.8 68.08" fill="none" stroke="#a2a2a2" stroke-width="0.7" stroke-linecap="round" opacity="0.55" filter="url(#soft)"/>
<path d="M335.84 63.67C337.31 65.14 342.18 69.27 344.66 72.49C347.14 75.7 349.72 81.21 350.73 82.96" fill="none" stroke="#a9a9a9" stroke-width="2.0" stroke-linecap="round" opacity="0.6" filter="url(#soft2)"/>
<path d="M335.84 63.67C337.31 65.14 342.18 69.27 344.66 72.49C347.14 75.7 349.72 81.21 350.73 82.96" fill="none" stroke="#a2a2a2" stroke-width="0.7" stroke-linecap="round" opacity="0.55" filter="url(#soft)"/>
<path d="M289.54 122.1C291.56 120.81 297.25 116.96 301.66 114.38C306.07 111.81 311.4 108.87 316 106.66C320.59 104.46 325.19 102.81 329.23 101.15C333.27 99.5 336.85 97.84 340.25 96.74C343.65 95.64 348.06 94.9 349.63 94.54" fill="none" stroke="#a9a9a9" stroke-width="2.0" stroke-linecap="round" opacity="0.6" filter="url(#soft2)"/>
<path d="M289.54 122.1C291.56 120.81 297.25 116.96 301.66 114.38C306.07 111.81 311.4 108.87 316 106.66C320.59 104.46 325.19 102.81 329.23 101.15C333.27 99.5 336.85 97.84 340.25 96.74C343.65 95.64 348.06 94.9 349.63 94.54" fill="none" stroke="#a2a2a2" stroke-width="0.7" stroke-linecap="round" opacity="0.55" filter="url(#soft)"/>
<path d="M340.25 90.13C341.91 90.49 346.78 91.23 350.18 92.33C353.58 93.43 358.9 96.01 360.65 96.74" fill="none" stroke="#a9a9a9" stroke-width="1.6" stroke-linecap="round" opacity="0.6" filter="url(#soft2)"/>
<path d="M340.25 90.13C341.91 90.49 346.78 91.23 350.18 92.33C353.58 93.43 358.9 96.01 360.65 96.74" fill="none" stroke="#a2a2a2" stroke-width="0.7" stroke-linecap="round" opacity="0.55" filter="url(#soft)"/>
<path d="M253.7 107.77C255.27 107.99 259.68 109.27 263.08 109.09C266.48 108.91 272.26 107.07 274.1 106.66" fill="none" stroke="#a9a9a9" stroke-width="1.6" stroke-linecap="round" opacity="0.6" filter="url(#soft2)"/>
<path d="M253.7 107.77C255.27 107.99 259.68 109.27 263.08 109.09C266.48 108.91 272.26 107.07 274.1 106.66" fill="none" stroke="#a2a2a2" stroke-width="0.7" stroke-linecap="round" opacity="0.55" filter="url(#soft)"/>
<path d="M309.38 43.82C309.57 45.47 310.85 50.44 310.49 53.74C310.12 57.05 307.73 62.01 307.18 63.67" fill="none" stroke="#a9a9a9" stroke-width="1.6" stroke-linecap="round" opacity="0.6" filter="url(#soft2)"/>
<path d="M309.38 43.82C309.57 45.47 310.85 50.44 310.49 53.74C310.12 57.05 307.73 62.01 307.18 63.67" fill="none" stroke="#a2a2a2" stroke-width="0.7" stroke-linecap="round" opacity="0.55" filter="url(#soft)"/>
<path d="M323.72 75.79C324.63 74.51 327.21 70.1 329.23 68.08C331.25 66.05 334.74 64.4 335.84 63.67" fill="none" stroke="#a9a9a9" stroke-width="1.4" stroke-linecap="round" opacity="0.6" filter="url(#soft2)"/>
<path d="M323.72 75.79C324.63 74.51 327.21 70.1 329.23 68.08C331.25 66.05 334.74 64.4 335.84 63.67" fill="none" stroke="#a2a2a2" stroke-width="0.7" stroke-linecap="round" opacity="0.55" filter="url(#soft)"/>
<path d="M263.08 62.56C264.91 61.64 270.06 58.7 274.1 57.05C278.14 55.4 282.92 54.2 287.33 52.64C291.74 51.08 298.36 48.51 300.56 47.68" fill="none" stroke="#f0f0f0" stroke-width="2.6" stroke-linecap="round" opacity="0.75" filter="url(#soft2)"/>
<path d="M246.54 85.72C247.46 84.34 249.66 79.74 252.05 77.45C254.44 75.15 259.4 72.85 260.87 71.93" fill="none" stroke="#f0f0f0" stroke-width="2.6" stroke-linecap="round" opacity="0.75" filter="url(#soft2)"/>
<path d="M282.92 124.31C285.13 123.2 291.37 120.08 296.15 117.69C300.93 115.3 306.81 112.18 311.59 109.97C316.37 107.77 322.61 105.38 324.82 104.46" fill="none" stroke="#f0f0f0" stroke-width="2.6" stroke-linecap="round" opacity="0.75" filter="url(#soft2)"/>
<path d="M306.07 82.41C307.55 81.12 311.96 76.99 314.9 74.69C317.84 72.39 322.25 69.64 323.72 68.63" fill="none" stroke="#f0f0f0" stroke-width="2.6" stroke-linecap="round" opacity="0.75" filter="url(#soft2)"/>
<path d="M263.08 96.74C265.28 97.11 271.9 99.22 276.31 98.95C280.72 98.67 287.33 95.73 289.54 95.09" fill="none" stroke="#f0f0f0" stroke-width="2.6" stroke-linecap="round" opacity="0.75" filter="url(#soft2)"/>
<path d="M329.23 86.82C331.07 86.27 336.58 83.51 340.25 83.51C343.93 83.51 349.44 86.27 351.28 86.82" fill="none" stroke="#f0f0f0" stroke-width="2.6" stroke-linecap="round" opacity="0.75" filter="url(#soft2)"/>
</g>
<path d="M330 78.4L321.6 100" stroke="#e6b93c" stroke-width="1.4"/>
<circle cx="330.9" cy="74.1" r="6.6" fill="url(#gNodeL)"/>
<circle cx="319.1" cy="106.4" r="6.8" fill="url(#gNode)"/>
</g>
<g id="brain2">
<path d="M438.06 45.51C436.19 46.09 433.74 47.26 431.05 49.01C428.37 50.77 424.28 53.68 421.95 56.02C419.61 58.36 418.44 60.69 417.04 63.03C415.64 65.36 414.35 67.7 413.54 70.03C412.72 72.37 412.72 74.7 412.14 77.04C411.55 79.38 410.73 81.71 410.03 84.05C409.33 86.38 408.52 88.72 407.93 91.05C407.35 93.39 406.76 94.56 406.53 98.06C406.3 101.56 406.18 108.57 406.53 112.07C406.88 115.58 407.7 116.75 408.63 119.08C409.57 121.42 410.97 123.75 412.14 126.09C413.3 128.42 414.35 130.76 415.64 133.09C416.92 135.43 417.97 137.77 419.84 140.1C421.71 142.44 424.28 144.77 426.85 147.11C429.42 149.44 432.92 152.48 435.26 154.11C437.59 155.75 439.58 157.15 440.86 156.92C442.15 156.68 442.38 155.52 442.97 152.71C443.55 149.91 443.9 145.71 444.37 140.1C444.83 134.5 445.42 126.09 445.77 119.08C446.12 112.07 446.35 105.07 446.47 98.06C446.59 91.05 446.54 83.35 446.47 77.04C446.4 70.73 446.28 64.9 446.05 60.22C445.81 55.55 445.7 51.47 445.07 49.01C444.44 46.56 443.43 46.09 442.26 45.51C441.1 44.93 439.93 44.93 438.06 45.51Z" fill="url(#gB2l)" stroke="#cdcdcd" stroke-width="0.5" filter="url(#soft)"/>
<path d="M457.68 45.51C459.78 46.09 463.05 47.26 466.09 49.01C469.12 50.77 473.56 53.68 475.9 56.02C478.23 58.36 478.93 60.69 480.1 63.03C481.27 65.36 482.32 67.7 482.9 70.03C483.49 72.37 483.14 74.7 483.6 77.04C484.07 79.38 484.89 81.71 485.71 84.05C486.52 86.38 487.93 88.72 488.51 91.05C489.09 93.39 489.09 95.72 489.21 98.06C489.33 100.4 489.44 102.73 489.21 105.07C488.98 107.4 488.39 109.74 487.81 112.07C487.22 114.41 486.52 116.75 485.71 119.08C484.89 121.42 483.84 123.75 482.9 126.09C481.97 128.42 481.27 130.76 480.1 133.09C478.93 135.43 477.53 137.77 475.9 140.1C474.26 142.44 472.63 144.77 470.29 147.11C467.96 149.44 464.22 152.25 461.88 154.11C459.55 155.98 457.68 158.32 456.28 158.32C454.88 158.32 454.29 157.15 453.48 154.11C452.66 151.08 452.07 145.94 451.37 140.1C450.67 134.26 449.74 126.09 449.27 119.08C448.8 112.07 448.69 105.07 448.57 98.06C448.45 91.05 448.45 83.35 448.57 77.04C448.69 70.73 448.92 64.9 449.27 60.22C449.62 55.55 449.97 51.47 450.67 49.01C451.37 46.56 452.31 46.09 453.48 45.51C454.64 44.93 455.58 44.93 457.68 45.51Z" fill="url(#gB2r)" stroke="#cdcdcd" stroke-width="0.5" filter="url(#soft)"/>
<path d="M421.24 63.03C421.01 64.9 419.38 71.2 419.84 74.24C420.31 77.27 422.18 78.91 424.05 81.24C425.92 83.58 429.89 87.08 431.05 88.25" fill="none" stroke="#bdbdbd" stroke-width="0.9" stroke-linecap="round" opacity="0.8" filter="url(#soft)"/>
<path d="M431.05 88.25C431.29 90.59 432.46 97.13 432.46 102.26C432.46 107.4 430.82 113.94 431.05 119.08C431.29 124.22 433.39 130.76 433.86 133.09" fill="none" stroke="#bdbdbd" stroke-width="0.9" stroke-linecap="round" opacity="0.8" filter="url(#soft)"/>
<path d="M415.64 82.65C416.81 82.18 420.54 79.61 422.65 79.84C424.75 80.08 427.32 83.35 428.25 84.05" fill="none" stroke="#bdbdbd" stroke-width="0.9" stroke-linecap="round" opacity="0.8" filter="url(#soft)"/>
<path d="M411.43 100.86C412.37 102.97 416.34 109.97 417.04 113.48C417.74 116.98 415.87 120.48 415.64 121.88" fill="none" stroke="#bdbdbd" stroke-width="0.9" stroke-linecap="round" opacity="0.8" filter="url(#soft)"/>
<path d="M436.66 51.82C436.43 54.85 435.02 63.49 435.26 70.03C435.49 76.57 437.59 87.55 438.06 91.05" fill="none" stroke="#bdbdbd" stroke-width="0.9" stroke-linecap="round" opacity="0.8" filter="url(#soft)"/>
<path d="M417.04 113.48C418.91 113.01 424.28 109.74 428.25 110.67C432.22 111.61 438.76 117.68 440.86 119.08" fill="none" stroke="#bdbdbd" stroke-width="0.9" stroke-linecap="round" opacity="0.8" filter="url(#soft)"/>
<path d="M421.24 138.7C422.88 138.23 427.78 135.43 431.05 135.9C434.32 136.36 439.23 140.57 440.86 141.5" fill="none" stroke="#bdbdbd" stroke-width="0.9" stroke-linecap="round" opacity="0.8" filter="url(#soft)"/>
<path d="M477.3 67.23C476.36 68.4 472.86 71.9 471.69 74.24C470.53 76.57 471.23 79.14 470.29 81.24C469.36 83.35 466.79 85.92 466.09 86.85" fill="none" stroke="#bdbdbd" stroke-width="0.9" stroke-linecap="round" opacity="0.8" filter="url(#soft)"/>
<path d="M466.09 86.85C466.32 88.72 466.32 94.56 467.49 98.06C468.66 101.56 471.46 105.3 473.09 107.87C474.73 110.44 476.6 112.54 477.3 113.48" fill="none" stroke="#bdbdbd" stroke-width="0.9" stroke-linecap="round" opacity="0.8" filter="url(#soft)"/>
<path d="M470.29 81.24C471.69 81.01 476.13 78.68 478.7 79.84C481.27 81.01 484.54 86.85 485.71 88.25" fill="none" stroke="#bdbdbd" stroke-width="0.9" stroke-linecap="round" opacity="0.8" filter="url(#soft)"/>
<path d="M459.08 51.82C459.31 55.09 460.72 64.9 460.48 71.43C460.25 77.97 458.15 87.78 457.68 91.05" fill="none" stroke="#bdbdbd" stroke-width="0.9" stroke-linecap="round" opacity="0.8" filter="url(#soft)"/>
<path d="M457.68 105.07C458.85 107.4 463.99 114.41 464.69 119.08C465.39 123.75 462.35 130.76 461.88 133.09" fill="none" stroke="#bdbdbd" stroke-width="0.9" stroke-linecap="round" opacity="0.8" filter="url(#soft)"/>
<path d="M477.3 113.48C478 114.88 481.27 118.61 481.5 121.88C481.74 125.15 479.17 131.23 478.7 133.09" fill="none" stroke="#bdbdbd" stroke-width="0.9" stroke-linecap="round" opacity="0.8" filter="url(#soft)"/>
<path d="M453.48 141.5C454.88 141.04 458.61 138.7 461.88 138.7C465.15 138.7 471.23 141.04 473.09 141.5" fill="none" stroke="#bdbdbd" stroke-width="0.9" stroke-linecap="round" opacity="0.8" filter="url(#soft)"/>
<path d="M464.69 119.08C466.55 120.25 474.03 124.92 475.9 126.09" fill="none" stroke="#bdbdbd" stroke-width="0.9" stroke-linecap="round" opacity="0.8" filter="url(#soft)"/>
<path d="M411 118.2L443 126.3" stroke="#c8a544" stroke-width="1.3"/>
<circle cx="406.1" cy="117" r="5.9" fill="url(#gNode)"/>
<circle cx="447.9" cy="127.5" r="5.9" fill="url(#gNode)"/>
<path d="M407.6 111.3A5.9 5.9 0 0 1 407.6 122.7Z" fill="#dcdcdc" opacity="0.45"/>
</g>
<g id="brain3">
<path d="M434.62 182.61C431.47 182.84 425.99 184.94 422.02 186.81C418.05 188.67 414.31 191.24 410.81 193.81C407.31 196.38 403.69 199.41 401.01 202.21C398.32 205.01 396.22 207.82 394.71 210.62C393.19 213.42 392.49 215.28 391.9 219.02C391.32 222.75 391.09 228.12 391.2 233.03C391.32 237.93 392.72 244.46 392.61 248.43C392.49 252.4 390.62 253.57 390.5 256.83C390.39 260.1 390.85 264.54 391.9 268.04C392.96 271.54 394.59 275.23 396.81 277.84C399.02 280.46 402.18 282.68 405.21 283.73C408.24 284.78 412.33 285.13 415.01 284.15C417.7 283.17 419.92 280.76 421.32 277.84C422.72 274.93 421.67 268.39 423.42 266.64C425.17 264.89 429.02 267.34 431.82 267.34C434.62 267.34 438.4 268.86 440.22 266.64C442.04 264.42 442.39 260.8 442.75 254.03C443.1 247.26 442.51 235.36 442.32 226.02C442.14 216.69 441.86 204.78 441.62 198.01C441.39 191.24 442.09 187.97 440.92 185.41C439.76 182.84 437.77 182.37 434.62 182.61Z" fill="url(#gB3l)" stroke="#cfcfcf" stroke-width="0.6" filter="url(#soft)"/>
<path d="M454.23 182.61C457.26 182.84 462.87 184.94 466.83 186.81C470.8 188.67 474.77 191.24 478.04 193.81C481.31 196.38 483.87 199.41 486.44 202.21C489.01 205.01 491.69 207.82 493.45 210.62C495.2 213.42 496.13 215.28 496.95 219.02C497.76 222.75 498.42 228.12 498.35 233.03C498.28 237.93 496.41 244.23 496.53 248.43C496.64 252.63 498.91 254.5 499.05 258.24C499.19 261.97 498.77 267.11 497.37 270.84C495.97 274.58 493.4 278.43 490.64 280.64C487.89 282.86 483.87 283.68 480.84 284.15C477.81 284.61 474.77 284.73 472.44 283.45C470.1 282.16 468 279.24 466.83 276.44C465.67 273.64 467.07 268.16 465.43 266.64C463.8 265.12 459.83 267.34 457.03 267.34C454.23 267.34 450.45 268.86 448.63 266.64C446.81 264.42 446.39 260.8 446.11 254.03C445.83 247.26 446.64 235.36 446.95 226.02C447.25 216.69 447.65 204.78 447.93 198.01C448.21 191.24 447.58 187.97 448.63 185.41C449.68 182.84 451.2 182.37 454.23 182.61Z" fill="url(#gB3r)" stroke="#cfcfcf" stroke-width="0.6" filter="url(#soft)"/>
<path d="M426.22 185.41C422.25 185.64 417.23 190.31 413.61 193.81C410 197.31 406.61 201.51 404.51 206.41C402.41 211.32 401.36 217.15 401.01 223.22C400.66 229.29 401.24 237.23 402.41 242.83C403.58 248.43 404.98 253.45 408.01 256.83C411.05 260.22 416.18 262.44 420.62 263.14C425.05 263.84 431.35 263.49 434.62 261.04C437.89 258.59 439.41 256.13 440.22 248.43C441.04 240.73 439.99 224.15 439.52 214.82C439.06 205.48 439.64 197.31 437.42 192.41C435.21 187.51 430.19 185.17 426.22 185.41Z" fill="#b4b4b4" opacity="0.26" stroke="#a8a8a8" stroke-width="0.5" filter="url(#soft)"/>
<path d="M462.63 185.41C466.48 185.64 471.62 190.31 475.24 193.81C478.86 197.31 482.12 201.51 484.34 206.41C486.56 211.32 488.08 217.15 488.54 223.22C489.01 229.29 488.31 237.23 487.14 242.83C485.98 248.43 484.58 253.45 481.54 256.83C478.51 260.22 473.37 262.44 468.94 263.14C464.5 263.84 458.2 263.49 454.93 261.04C451.66 258.59 450.14 256.13 449.33 248.43C448.51 240.73 449.56 224.15 450.03 214.82C450.49 205.48 450.03 197.31 452.13 192.41C454.23 187.51 458.78 185.17 462.63 185.41Z" fill="#b4b4b4" opacity="0.26" stroke="#a8a8a8" stroke-width="0.5" filter="url(#soft)"/>
<path d="M415.01 198.01C411.75 200.11 408.13 206.65 406.61 212.02C405.09 217.39 405.33 224.62 405.91 230.22C406.49 235.83 407.66 241.66 410.11 245.63C412.56 249.6 417 253.33 420.62 254.03C424.23 254.73 429.25 253.33 431.82 249.83C434.39 246.33 435.79 239.33 436.02 233.03C436.26 226.72 434.86 217.62 433.22 212.02C431.59 206.41 429.25 201.75 426.22 199.41C423.18 197.08 418.28 195.91 415.01 198.01Z" fill="#b0b0b0" opacity="0.18" stroke="#a8a8a8" stroke-width="0.5" filter="url(#soft)"/>
<path d="M473.84 198.01C476.99 200.11 480.61 206.65 482.24 212.02C483.87 217.39 484.11 224.62 483.64 230.22C483.17 235.83 481.89 241.66 479.44 245.63C476.99 249.6 472.55 253.33 468.94 254.03C465.32 254.73 460.3 253.33 457.73 249.83C455.16 246.33 453.76 239.33 453.53 233.03C453.3 226.72 454.7 217.62 456.33 212.02C457.96 206.41 460.42 201.75 463.33 199.41C466.25 197.08 470.69 195.91 473.84 198.01Z" fill="#b0b0b0" opacity="0.18" stroke="#a8a8a8" stroke-width="0.5" filter="url(#soft)"/>
<path d="M396.81 212.02C394.59 214.35 393.54 220.89 393.31 226.02C393.07 231.16 393.89 239.09 395.41 242.83C396.92 246.56 399.84 248.43 402.41 248.43C404.98 248.43 409.18 246.56 410.81 242.83C412.45 239.09 412.91 231.16 412.21 226.02C411.51 220.89 409.18 214.35 406.61 212.02C404.04 209.68 399.02 209.68 396.81 212.02Z" fill="#bdbdbd" opacity="0.2" stroke="#a8a8a8" stroke-width="0.5" filter="url(#soft)"/>
<path d="M492.04 212.02C494.22 214.35 495.62 220.89 495.97 226.02C496.32 231.16 495.62 239.09 494.15 242.83C492.68 246.56 489.71 248.43 487.14 248.43C484.58 248.43 480.37 246.56 478.74 242.83C477.11 239.09 476.64 231.16 477.34 226.02C478.04 220.89 480.49 214.35 482.94 212.02C485.39 209.68 489.87 209.68 492.04 212.02Z" fill="#bdbdbd" opacity="0.2" stroke="#a8a8a8" stroke-width="0.5" filter="url(#soft)"/>
<path d="M401.01 202.21C402.18 203.85 407.08 208.05 408.01 212.02C408.94 215.99 407.78 222.05 406.61 226.02C405.44 229.99 401.48 232.56 401.01 235.83C400.54 239.09 403.34 244 403.81 245.63" fill="none" stroke="#b3b3b3" stroke-width="0.8" stroke-linecap="round" opacity="0.7" filter="url(#soft)"/>
<path d="M415.01 193.81C415.71 196.38 418.98 204.31 419.22 209.22C419.45 214.12 415.95 218.55 416.41 223.22C416.88 227.89 421.08 234.89 422.02 237.23" fill="none" stroke="#b3b3b3" stroke-width="0.8" stroke-linecap="round" opacity="0.7" filter="url(#soft)"/>
<path d="M394.01 216.22C395.41 215.75 399.37 213.18 402.41 213.42C405.44 213.65 410.58 216.92 412.21 217.62" fill="none" stroke="#b3b3b3" stroke-width="0.8" stroke-linecap="round" opacity="0.7" filter="url(#soft)"/>
<path d="M422.02 237.23C421.08 239.09 418.75 245.16 416.41 248.43C414.08 251.7 409.41 255.43 408.01 256.83" fill="none" stroke="#b3b3b3" stroke-width="0.8" stroke-linecap="round" opacity="0.7" filter="url(#soft)"/>
<path d="M427.62 189.61C428.55 192.41 431.82 200.81 433.22 206.41C434.62 212.02 435.56 220.42 436.02 223.22" fill="none" stroke="#b3b3b3" stroke-width="0.8" stroke-linecap="round" opacity="0.7" filter="url(#soft)"/>
<path d="M422.02 254.03C423.88 253.1 429.95 248.9 433.22 248.43C436.49 247.96 440.22 250.77 441.62 251.23" fill="none" stroke="#b3b3b3" stroke-width="0.8" stroke-linecap="round" opacity="0.7" filter="url(#soft)"/>
<path d="M487.84 202.21C486.68 203.85 481.66 208.05 480.84 212.02C480.02 215.99 481.54 222.05 482.94 226.02C484.34 229.99 488.66 232.56 489.24 235.83C489.83 239.09 486.91 244 486.44 245.63" fill="none" stroke="#b3b3b3" stroke-width="0.8" stroke-linecap="round" opacity="0.7" filter="url(#soft)"/>
<path d="M473.84 193.81C473.14 196.38 469.75 204.31 469.64 209.22C469.52 214.12 473.6 218.55 473.14 223.22C472.67 227.89 467.89 234.89 466.83 237.23" fill="none" stroke="#b3b3b3" stroke-width="0.8" stroke-linecap="round" opacity="0.7" filter="url(#soft)"/>
<path d="M496.25 216.22C494.85 215.75 490.88 214.82 487.84 213.42C484.81 212.02 479.67 208.75 478.04 207.82" fill="none" stroke="#b3b3b3" stroke-width="0.8" stroke-linecap="round" opacity="0.7" filter="url(#soft)"/>
<path d="M466.83 237.23C467.77 239.09 470.1 245.16 472.44 248.43C474.77 251.7 479.44 255.43 480.84 256.83" fill="none" stroke="#b3b3b3" stroke-width="0.8" stroke-linecap="round" opacity="0.7" filter="url(#soft)"/>
<path d="M461.23 189.61C460.42 192.41 457.61 200.81 456.33 206.41C455.05 212.02 454 220.42 453.53 223.22" fill="none" stroke="#b3b3b3" stroke-width="0.8" stroke-linecap="round" opacity="0.7" filter="url(#soft)"/>
<path d="M467.54 254.03C465.67 253.1 459.48 248.9 456.33 248.43C453.18 247.96 449.91 250.77 448.63 251.23" fill="none" stroke="#b3b3b3" stroke-width="0.8" stroke-linecap="round" opacity="0.7" filter="url(#soft)"/>
<path d="M392.61 254.03C394.24 254.97 398.67 258.47 402.41 259.64C406.14 260.8 411.51 259.87 415.01 261.04C418.52 262.2 422.02 265.7 423.42 266.64" fill="none" stroke="#b3b3b3" stroke-width="0.8" stroke-linecap="round" opacity="0.7" filter="url(#soft)"/>
<path d="M496.95 254.03C495.31 254.97 490.88 258.47 487.14 259.64C483.41 260.8 478.16 259.87 474.54 261.04C470.92 262.2 466.95 265.7 465.43 266.64" fill="none" stroke="#b3b3b3" stroke-width="0.8" stroke-linecap="round" opacity="0.7" filter="url(#soft)"/>
<path d="M450 224.3L493 252.5" stroke="#e6b93c" stroke-width="1.4"/>
<circle cx="444.7" cy="219.7" r="7.6" fill="url(#gNode)"/>
<circle cx="498.3" cy="255.9" r="7.6" fill="url(#gNode)"/>
<path d="M445.7 212.2A7.6 7.6 0 0 0 445.7 227.2Z" fill="#9a9a9a" opacity="0.35"/>
<path d="M497.3 248.4A7.6 7.6 0 0 0 497.3 263.4Z" fill="#9a9a9a" opacity="0.35"/>
</g>
<g font-size="18" font-weight="bold" fill="#000">
<text x="320" y="58.5">PCC</text>
<text x="285.8" y="139.3">lMTG</text>
<text x="381" y="102.3">lMTG</text>
<text x="432.6" y="157.8">PCC</text>
<text x="423.5" y="201.7">PCC</text>
<text x="473.4" y="286.3" font-size="19">lMTG</text>
</g>
<g id="panelTR">
<path d="M733.3 36.85V413.33H1212" fill="none" stroke="#3c3c3c" stroke-width="1"/>
<path d="M733.3 36.85h5M733.3 83.91h5M733.3 130.97h5M733.3 178.03h5M733.3 225.09h5M733.3 272.15h5M733.3 319.21h5M733.3 366.27h5M733.3 413.33h5M866.2 413.33v-5M1105.3 413.33v-5" stroke="#3c3c3c" stroke-width="1" fill="none"/>
<g font-size="20" font-weight="bold" fill="#262626" text-anchor="end">
<text x="725" y="44.05">0.24</text>
<text x="725" y="91.11">0.22</text>
<text x="725" y="138.17">0.2</text>
<text x="725" y="185.23">0.18</text>
<text x="725" y="232.29">0.16</text>
<text x="725" y="279.35">0.14</text>
<text x="725" y="326.41">0.12</text>
<text x="725" y="373.47">0.1</text>
<text x="725" y="420.53">0.08</text>
</g>
<g font-size="20" font-weight="bold" fill="#262626" text-anchor="middle">
<text x="866.2" y="441.33">OCD</text><text x="1105.3" y="441.33">HC</text>
</g>
<text transform="translate(676.7 225.09) rotate(-90)" font-size="22.5" font-weight="bold" fill="#262626" text-anchor="middle">wPLI strength between PCC and lMTG</text>
<path d="M866.2 76.1C866.14 77.78 866.01 83.17 865.86 86.2C865.7 89.23 865.61 91.62 865.28 94.3C864.95 96.98 864.29 99.62 863.85 102.3C863.41 104.98 862.85 107.7 862.65 110.4C862.45 113.1 862.52 115.8 862.65 118.5C862.78 121.2 863.17 123.9 863.45 126.6C863.73 129.3 864.2 132 864.35 134.7C864.5 137.4 864.43 140.1 864.35 142.8C864.27 145.5 864.35 148.2 863.85 150.9C863.35 153.6 862.3 156.32 861.35 159C860.4 161.68 859.03 164.32 858.15 167C857.27 169.68 856.58 172.4 856.05 175.1C855.52 177.8 855.4 180.5 854.95 183.2C854.5 185.9 854.3 188.6 853.35 191.3C852.4 194 851.02 196.7 849.25 199.4C847.48 202.1 845.03 204.8 842.75 207.5C840.47 210.2 837.92 213.18 835.55 215.6C833.18 218.02 830.55 220.15 828.55 222C826.55 223.85 825.48 224.52 823.55 226.7C821.62 228.88 818.62 232.32 816.95 235.1C815.28 237.88 814.17 241.18 813.55 243.4C812.93 245.62 812.97 246.45 813.25 248.4C813.53 250.35 813.8 252.58 815.25 255.1C816.7 257.62 819.45 260.72 821.95 263.5C824.45 266.28 827.47 269.02 830.25 271.8C833.03 274.58 836 277.4 838.65 280.2C841.3 283 843.78 285.82 846.15 288.6C848.52 291.38 850.77 294.12 852.85 296.9C854.93 299.68 856.98 302.52 858.65 305.3C860.32 308.08 861.78 310.82 862.85 313.6C863.92 316.38 864.59 319.22 865.05 322C865.51 324.78 865.46 327.23 865.62 330.3C865.79 333.37 865.93 335.72 866.03 340.4C866.12 345.08 866.17 355.4 866.2 358.4L866.2 358.4C866.23 355.4 866.28 345.08 866.37 340.4C866.47 335.72 866.61 333.37 866.78 330.3C866.94 327.23 866.89 324.78 867.35 322C867.81 319.22 868.48 316.38 869.55 313.6C870.62 310.82 872.08 308.08 873.75 305.3C875.42 302.52 877.47 299.68 879.55 296.9C881.63 294.12 883.88 291.38 886.25 288.6C888.62 285.82 891.1 283 893.75 280.2C896.4 277.4 899.37 274.58 902.15 271.8C904.93 269.02 907.95 266.28 910.45 263.5C912.95 260.72 915.7 257.62 917.15 255.1C918.6 252.58 918.87 250.35 919.15 248.4C919.43 246.45 919.47 245.62 918.85 243.4C918.23 241.18 917.12 237.88 915.45 235.1C913.78 232.32 910.78 228.88 908.85 226.7C906.92 224.52 905.85 223.85 903.85 222C901.85 220.15 899.22 218.02 896.85 215.6C894.48 213.18 891.93 210.2 889.65 207.5C887.37 204.8 884.92 202.1 883.15 199.4C881.38 196.7 880 194 879.05 191.3C878.1 188.6 877.9 185.9 877.45 183.2C877 180.5 876.88 177.8 876.35 175.1C875.82 172.4 875.13 169.68 874.25 167C873.37 164.32 872 161.68 871.05 159C870.1 156.32 869.05 153.6 868.55 150.9C868.05 148.2 868.13 145.5 868.05 142.8C867.97 140.1 867.9 137.4 868.05 134.7C868.2 132 868.67 129.3 868.95 126.6C869.23 123.9 869.62 121.2 869.75 118.5C869.88 115.8 869.95 113.1 869.75 110.4C869.55 107.7 868.99 104.98 868.55 102.3C868.11 99.62 867.45 96.98 867.12 94.3C866.79 91.62 866.7 89.23 866.55 86.2C866.39 83.17 866.26 77.78 866.2 76.1Z" fill="#a3d2ff" stroke="#2b2b2b" stroke-width="1.6" stroke-linejoin="round"/>
<path d="M839.4 245.4H892.8" stroke="#000" stroke-width="2.8"/>
<rect x="847.3" y="222" width="37.8" height="41.5" fill="#fff" stroke="#000" stroke-width="1.9"/>
<circle cx="866.2" cy="239.8" r="3" fill="#000"/>
<path d="M1105.3 133.1C1105.23 135.25 1105.03 142.68 1104.9 146C1104.76 149.32 1104.65 150.67 1104.49 153C1104.34 155.33 1104.19 157.67 1103.95 160C1103.71 162.33 1103.38 164.67 1103.05 167C1102.72 169.33 1102.37 171.67 1101.95 174C1101.53 176.33 1101.13 178.67 1100.55 181C1099.97 183.33 1099.15 185.67 1098.45 188C1097.75 190.33 1097.05 192.67 1096.35 195C1095.65 197.33 1095.18 199.67 1094.25 202C1093.32 204.33 1092.5 206.67 1090.75 209C1089 211.33 1086.55 213.67 1083.75 216C1080.95 218.33 1077.1 220.67 1073.95 223C1070.8 225.33 1067.42 227.67 1064.85 230C1062.28 232.33 1060.25 234.67 1058.55 237C1056.85 239.33 1055.7 241.5 1054.65 244C1053.6 246.5 1052.42 249.5 1052.25 252C1052.08 254.5 1052.37 256.67 1053.65 259C1054.93 261.33 1057.5 263.67 1059.95 266C1062.4 268.33 1065.9 270.67 1068.35 273C1070.8 275.33 1073.3 277.67 1074.65 280C1076 282.33 1076.15 284.67 1076.45 287C1076.75 289.33 1076.05 291.67 1076.45 294C1076.85 296.33 1077.63 298.67 1078.85 301C1080.07 303.33 1082 305.67 1083.75 308C1085.5 310.33 1087.6 312.67 1089.35 315C1091.1 317.33 1092.73 319.67 1094.25 322C1095.77 324.33 1097.17 326.67 1098.45 329C1099.73 331.33 1101 333.67 1101.95 336C1102.9 338.33 1103.66 340.67 1104.15 343C1104.64 345.33 1104.73 347.67 1104.9 350C1105.06 352.33 1105.06 353.73 1105.13 357C1105.19 360.27 1105.27 367.5 1105.3 369.6L1105.3 369.6C1105.33 367.5 1105.41 360.27 1105.47 357C1105.54 353.73 1105.54 352.33 1105.7 350C1105.87 347.67 1105.96 345.33 1106.45 343C1106.94 340.67 1107.7 338.33 1108.65 336C1109.6 333.67 1110.87 331.33 1112.15 329C1113.43 326.67 1114.83 324.33 1116.35 322C1117.87 319.67 1119.5 317.33 1121.25 315C1123 312.67 1125.1 310.33 1126.85 308C1128.6 305.67 1130.53 303.33 1131.75 301C1132.97 298.67 1133.75 296.33 1134.15 294C1134.55 291.67 1133.85 289.33 1134.15 287C1134.45 284.67 1134.6 282.33 1135.95 280C1137.3 277.67 1139.8 275.33 1142.25 273C1144.7 270.67 1148.2 268.33 1150.65 266C1153.1 263.67 1155.67 261.33 1156.95 259C1158.23 256.67 1158.52 254.5 1158.35 252C1158.18 249.5 1157 246.5 1155.95 244C1154.9 241.5 1153.75 239.33 1152.05 237C1150.35 234.67 1148.32 232.33 1145.75 230C1143.18 227.67 1139.8 225.33 1136.65 223C1133.5 220.67 1129.65 218.33 1126.85 216C1124.05 213.67 1121.6 211.33 1119.85 209C1118.1 206.67 1117.28 204.33 1116.35 202C1115.42 199.67 1114.95 197.33 1114.25 195C1113.55 192.67 1112.85 190.33 1112.15 188C1111.45 185.67 1110.63 183.33 1110.05 181C1109.47 178.67 1109.07 176.33 1108.65 174C1108.23 171.67 1107.88 169.33 1107.55 167C1107.22 164.67 1106.89 162.33 1106.65 160C1106.41 157.67 1106.26 155.33 1106.11 153C1105.95 150.67 1105.84 149.32 1105.7 146C1105.57 142.68 1105.37 135.25 1105.3 133.1Z" fill="#ffa3c2" stroke="#2b2b2b" stroke-width="1.6" stroke-linejoin="round"/>
<path d="M1078.6 258.6H1132.1" stroke="#000" stroke-width="2.8"/>
<rect x="1086.6" y="234.9" width="37.9" height="53.5" fill="#fff" stroke="#000" stroke-width="1.9"/>
<circle cx="1105.3" cy="259" r="3" fill="#000"/>
<path d="M865.8 67.2H1102" stroke="#000" stroke-width="2.9"/>
<g font-size="18" font-weight="bold" fill="#111" text-anchor="middle">
<text x="985.8" y="51.7"><tspan font-style="italic">p</tspan> &lt; 0.05 FWE-corrected</text>
<text x="976.4" y="99.1"><tspan font-style="italic">t</tspan> = 3.82</text>
</g>
</g>
<g id="panelB">
<path d="M116.6 500.5V876.5H594.8" fill="none" stroke="#3c3c3c" stroke-width="1"/>
<path d="M116.6 500.5h5M116.6 575.7h5M116.6 650.9h5M116.6 726.1h5M116.6 801.3h5M116.6 876.5h5M249.2 876.5v-5M488.3 876.5v-5" stroke="#3c3c3c" stroke-width="1" fill="none"/>
<g font-size="20" font-weight="bold" fill="#262626" text-anchor="end">
<text x="108.2" y="507.7">0.22</text>
<text x="108.2" y="582.9">0.2</text>
<text x="108.2" y="658.1">0.18</text>
<text x="108.2" y="733.3">0.16</text>
<text x="108.2" y="808.5">0.14</text>
<text x="108.2" y="883.7">0.12</text>
</g>
<g font-size="20" font-weight="bold" fill="#262626" text-anchor="middle">
<text x="249.2" y="904.5">OCD</text><text x="488.3" y="904.5">HC</text>
</g>
<text transform="translate(60.1 688.5) rotate(-90)" font-size="22.5" font-weight="bold" fill="#262626" text-anchor="middle">REC beta GE</text>
<path d="M249.2 591.8C249.16 595.7 249.09 608.8 248.94 615.2C248.8 621.6 248.6 626.43 248.34 630.2C248.07 633.97 247.75 635.28 247.35 637.8C246.95 640.32 246.4 642.78 245.95 645.3C245.5 647.82 245.12 650.38 244.65 652.9C244.18 655.42 243.7 657.88 243.15 660.4C242.6 662.92 242.02 665.48 241.35 668C240.68 670.52 239.97 673 239.15 675.5C238.33 678 237.45 680.48 236.45 683C235.45 685.52 234.35 688.08 233.15 690.6C231.95 693.12 230.58 695.58 229.25 698.1C227.92 700.62 226.53 703.18 225.15 705.7C223.77 708.22 222.6 710.3 220.95 713.2C219.3 716.1 217 720.1 215.25 723.1C213.5 726.1 212.07 728.5 210.45 731.2C208.83 733.9 207.03 736.62 205.55 739.3C204.07 741.98 202.82 744.62 201.55 747.3C200.28 749.98 198.82 752.7 197.95 755.4C197.08 758.1 196.63 761.33 196.35 763.5C196.07 765.67 195.92 766.52 196.25 768.4C196.58 770.28 196.93 772.38 198.35 774.8C199.77 777.22 202.07 780.2 204.75 782.9C207.43 785.6 211.22 788.3 214.45 791C217.68 793.7 221.05 796.4 224.15 799.1C227.25 801.8 230.35 804.52 233.05 807.2C235.75 809.88 238.27 812.52 240.35 815.2C242.43 817.88 244.26 820.6 245.55 823.3C246.84 826 247.58 828.7 248.11 831.4C248.64 834.1 248.56 835.32 248.74 839.5C248.92 843.68 249.12 853.67 249.2 856.5L249.2 856.5C249.28 853.67 249.48 843.68 249.66 839.5C249.84 835.32 249.76 834.1 250.29 831.4C250.82 828.7 251.56 826 252.85 823.3C254.14 820.6 255.97 817.88 258.05 815.2C260.13 812.52 262.65 809.88 265.35 807.2C268.05 804.52 271.15 801.8 274.25 799.1C277.35 796.4 280.72 793.7 283.95 791C287.18 788.3 290.97 785.6 293.65 782.9C296.33 780.2 298.63 777.22 300.05 774.8C301.47 772.38 301.82 770.28 302.15 768.4C302.48 766.52 302.33 765.67 302.05 763.5C301.77 761.33 301.32 758.1 300.45 755.4C299.58 752.7 298.12 749.98 296.85 747.3C295.58 744.62 294.33 741.98 292.85 739.3C291.37 736.62 289.57 733.9 287.95 731.2C286.33 728.5 284.9 726.1 283.15 723.1C281.4 720.1 279.1 716.1 277.45 713.2C275.8 710.3 274.63 708.22 273.25 705.7C271.87 703.18 270.48 700.62 269.15 698.1C267.82 695.58 266.45 693.12 265.25 690.6C264.05 688.08 262.95 685.52 261.95 683C260.95 680.48 260.07 678 259.25 675.5C258.43 673 257.72 670.52 257.05 668C256.38 665.48 255.8 662.92 255.25 660.4C254.7 657.88 254.22 655.42 253.75 652.9C253.28 650.38 252.9 647.82 252.45 645.3C252 642.78 251.45 640.32 251.05 637.8C250.65 635.28 250.33 633.97 250.06 630.2C249.8 626.43 249.6 621.6 249.46 615.2C249.31 608.8 249.24 595.7 249.2 591.8Z" fill="#a3d2ff" stroke="#2b2b2b" stroke-width="1.6" stroke-linejoin="round"/>
<path d="M222.5 757.5H275.7" stroke="#000" stroke-width="2.8"/>
<rect x="230.3" y="725.5" width="38" height="49.6" fill="#fff" stroke="#000" stroke-width="1.9"/>
<circle cx="249.2" cy="748.1" r="3" fill="#000"/>
<path d="M488.3 544.2C488.25 547.25 488.12 557.93 488.01 562.5C487.91 567.07 487.88 568.55 487.67 571.6C487.46 574.65 487.12 577.73 486.75 580.8C486.38 583.87 485.87 586.95 485.45 590C485.03 593.05 484.63 596.05 484.25 599.1C483.87 602.15 483.55 605.25 483.15 608.3C482.75 611.35 482.25 614.35 481.85 617.4C481.45 620.45 481.08 623.55 480.75 626.6C480.42 629.65 480.17 632.65 479.85 635.7C479.53 638.75 479.13 641.85 478.85 644.9C478.57 647.95 478.42 650.95 478.15 654C477.88 657.05 477.62 660.13 477.25 663.2C476.88 666.27 476.5 669.35 475.95 672.4C475.4 675.45 474.73 678.45 473.95 681.5C473.17 684.55 472.23 687.65 471.25 690.7C470.27 693.75 468.88 697.47 468.05 699.8C467.22 702.13 467.58 702.27 466.25 704.7C464.92 707.13 462.22 711.17 460.05 714.4C457.88 717.63 455.52 720.87 453.25 724.1C450.98 727.33 448.55 730.57 446.45 733.8C444.35 737.03 442.27 740.27 440.65 743.5C439.03 746.73 437.62 750.28 436.75 753.2C435.88 756.12 435.45 758.42 435.45 761C435.45 763.58 435.57 765.8 436.75 768.7C437.93 771.6 440.12 775.17 442.55 778.4C444.98 781.63 448.27 784.87 451.35 788.1C454.43 791.33 457.82 794.57 461.05 797.8C464.28 801.03 467.85 804.27 470.75 807.5C473.65 810.73 476.25 813.97 478.45 817.2C480.65 820.43 482.49 823.67 483.95 826.9C485.41 830.13 486.56 833.37 487.21 836.6C487.86 839.83 487.66 840.95 487.84 846.3C488.02 851.65 488.22 864.97 488.3 868.7L488.3 868.7C488.38 864.97 488.58 851.65 488.76 846.3C488.94 840.95 488.74 839.83 489.39 836.6C490.04 833.37 491.19 830.13 492.65 826.9C494.11 823.67 495.95 820.43 498.15 817.2C500.35 813.97 502.95 810.73 505.85 807.5C508.75 804.27 512.32 801.03 515.55 797.8C518.78 794.57 522.17 791.33 525.25 788.1C528.33 784.87 531.62 781.63 534.05 778.4C536.48 775.17 538.67 771.6 539.85 768.7C541.03 765.8 541.15 763.58 541.15 761C541.15 758.42 540.72 756.12 539.85 753.2C538.98 750.28 537.57 746.73 535.95 743.5C534.33 740.27 532.25 737.03 530.15 733.8C528.05 730.57 525.62 727.33 523.35 724.1C521.08 720.87 518.72 717.63 516.55 714.4C514.38 711.17 511.68 707.13 510.35 704.7C509.02 702.27 509.38 702.13 508.55 699.8C507.72 697.47 506.33 693.75 505.35 690.7C504.37 687.65 503.43 684.55 502.65 681.5C501.87 678.45 501.2 675.45 500.65 672.4C500.1 669.35 499.72 666.27 499.35 663.2C498.98 660.13 498.72 657.05 498.45 654C498.18 650.95 498.03 647.95 497.75 644.9C497.47 641.85 497.07 638.75 496.75 635.7C496.43 632.65 496.18 629.65 495.85 626.6C495.52 623.55 495.15 620.45 494.75 617.4C494.35 614.35 493.85 611.35 493.45 608.3C493.05 605.25 492.73 602.15 492.35 599.1C491.97 596.05 491.57 593.05 491.15 590C490.73 586.95 490.22 583.87 489.85 580.8C489.48 577.73 489.14 574.65 488.93 571.6C488.72 568.55 488.69 567.07 488.59 562.5C488.48 557.93 488.35 547.25 488.3 544.2Z" fill="#ffa3c2" stroke="#2b2b2b" stroke-width="1.6" stroke-linejoin="round"/>
<path d="M461.9 752.4H514.8" stroke="#000" stroke-width="2.8"/>
<rect x="469.6" y="712.5" width="37.9" height="57.8" fill="#fff" stroke="#000" stroke-width="1.9"/>
<circle cx="488.3" cy="736.3" r="3" fill="#000"/>
<path d="M251.6 536.9H488.4" stroke="#000" stroke-width="2.9"/>
<g font-size="18" font-weight="bold" fill="#111" text-anchor="middle">
<text x="359.7" y="521"><tspan font-style="italic">p</tspan> = 0.044</text>
<text x="362.3" y="568.4"><tspan font-style="italic">t</tspan> = -2.03</text>
</g>
</g>
<g id="panelC">
<path d="M733.8 500.5V876.5H1212" fill="none" stroke="#3c3c3c" stroke-width="1"/>
<path d="M733.8 500.5h5M733.8 575.7h5M733.8 650.9h5M733.8 726.1h5M733.8 801.3h5M733.8 876.5h5M866 876.5v-5M1105.3 876.5v-5" stroke="#3c3c3c" stroke-width="1" fill="none"/>
<g font-size="20" font-weight="bold" fill="#262626" text-anchor="end">
<text x="725.6" y="507.7">0.22</text>
<text x="725.6" y="582.9">0.2</text>
<text x="725.6" y="658.1">0.18</text>
<text x="725.6" y="733.3">0.16</text>
<text x="725.6" y="808.5">0.14</text>
<text x="725.6" y="883.7">0.12</text>
</g>
<g font-size="20" font-weight="bold" fill="#262626" text-anchor="middle">
<text x="866" y="904.5">OCD</text><text x="1105.3" y="904.5">HC</text>
</g>
<text transform="translate(676.8 688.5) rotate(-90)" font-size="22.5" font-weight="bold" fill="#262626" text-anchor="middle">REC beta LE in rV1</text>
<path d="M866 522.7C865.96 527.4 865.87 543.47 865.77 550.9C865.67 558.33 865.5 562.52 865.42 567.3C865.35 572.08 865.31 575.5 865.31 579.6C865.31 583.7 865.39 587.47 865.42 591.9C865.46 596.33 865.56 602.12 865.54 606.2C865.52 610.28 865.51 613.33 865.31 616.4C865.11 619.47 864.78 621.87 864.35 624.6C863.92 627.33 863.35 629.72 862.75 632.8C862.15 635.88 861.5 639.68 860.75 643.1C860 646.52 859.15 649.9 858.25 653.3C857.35 656.7 856.48 660.08 855.35 663.5C854.22 666.92 852.88 670.38 851.45 673.8C850.02 677.22 848.42 680.6 846.75 684C845.08 687.4 842.95 691.5 841.45 694.2C839.95 696.9 839.32 697.48 837.75 700.2C836.18 702.92 833.68 707.08 832.05 710.5C830.42 713.92 829.22 717.3 827.95 720.7C826.68 724.1 825.65 727.48 824.45 730.9C823.25 734.32 821.93 737.78 820.75 741.2C819.57 744.62 818.4 748 817.35 751.4C816.3 754.8 815.13 758.18 814.45 761.6C813.77 765.02 813.45 769.17 813.25 771.9C813.05 774.63 812.68 775.62 813.25 778C813.82 780.38 814.53 783.13 816.65 786.2C818.77 789.27 822.37 792.98 825.95 796.4C829.53 799.82 834.23 803.28 838.15 806.7C842.07 810.12 846.03 813.48 849.45 816.9C852.87 820.32 856.27 823.78 858.65 827.2C861.03 830.62 862.62 834 863.75 837.4C864.88 840.8 865.05 842.15 865.42 847.6C865.8 853.05 865.9 866.35 866 870.1L866 870.1C866.1 866.35 866.2 853.05 866.58 847.6C866.95 842.15 867.12 840.8 868.25 837.4C869.38 834 870.97 830.62 873.35 827.2C875.73 823.78 879.13 820.32 882.55 816.9C885.97 813.48 889.93 810.12 893.85 806.7C897.77 803.28 902.47 799.82 906.05 796.4C909.63 792.98 913.23 789.27 915.35 786.2C917.47 783.13 918.18 780.38 918.75 778C919.32 775.62 918.95 774.63 918.75 771.9C918.55 769.17 918.23 765.02 917.55 761.6C916.87 758.18 915.7 754.8 914.65 751.4C913.6 748 912.43 744.62 911.25 741.2C910.07 737.78 908.75 734.32 907.55 730.9C906.35 727.48 905.32 724.1 904.05 720.7C902.78 717.3 901.58 713.92 899.95 710.5C898.32 707.08 895.82 702.92 894.25 700.2C892.68 697.48 892.05 696.9 890.55 694.2C889.05 691.5 886.92 687.4 885.25 684C883.58 680.6 881.98 677.22 880.55 673.8C879.12 670.38 877.78 666.92 876.65 663.5C875.52 660.08 874.65 656.7 873.75 653.3C872.85 649.9 872 646.52 871.25 643.1C870.5 639.68 869.85 635.88 869.25 632.8C868.65 629.72 868.08 627.33 867.65 624.6C867.22 621.87 866.89 619.47 866.69 616.4C866.49 613.33 866.48 610.28 866.46 606.2C866.44 602.12 866.54 596.33 866.58 591.9C866.61 587.47 866.69 583.7 866.69 579.6C866.69 575.5 866.65 572.08 866.58 567.3C866.5 562.52 866.33 558.33 866.23 550.9C866.13 543.47 866.04 527.4 866 522.7Z" fill="#a3d2ff" stroke="#2b2b2b" stroke-width="1.6" stroke-linejoin="round"/>
<path d="M839.3 754.9H892.5" stroke="#000" stroke-width="2.8"/>
<rect x="847.5" y="721.7" width="37.5" height="62.5" fill="#fff" stroke="#000" stroke-width="1.9"/>
<circle cx="866" cy="748.3" r="3" fill="#000"/>
<path d="M1105.3 502.2C1105.23 506.05 1105.14 519.57 1104.9 525.3C1104.66 531.03 1104.47 532.82 1103.85 536.6C1103.23 540.38 1102.02 544.22 1101.15 548C1100.28 551.78 1099.33 555.53 1098.65 559.3C1097.97 563.07 1097.38 566.83 1097.05 570.6C1096.72 574.37 1096.68 578.12 1096.65 581.9C1096.62 585.68 1096.88 589.52 1096.85 593.3C1096.82 597.08 1096.87 600.83 1096.45 604.6C1096.03 608.37 1095.07 612.13 1094.35 615.9C1093.63 619.67 1092.75 623.42 1092.15 627.2C1091.55 630.98 1090.87 634.82 1090.75 638.6C1090.63 642.38 1091.15 646.13 1091.45 649.9C1091.75 653.67 1092.52 657.43 1092.55 661.2C1092.58 664.97 1092.6 668.72 1091.65 672.5C1090.7 676.28 1088.2 680.85 1086.85 683.9C1085.5 686.95 1085.3 687.85 1083.55 690.8C1081.8 693.75 1078.7 698.02 1076.35 701.6C1074 705.18 1071.67 708.72 1069.45 712.3C1067.23 715.88 1065.02 719.5 1063.05 723.1C1061.08 726.7 1059.17 730.3 1057.65 733.9C1056.13 737.5 1054.85 741.1 1053.95 744.7C1053.05 748.3 1052.35 751.92 1052.25 755.5C1052.15 759.08 1052.45 762.62 1053.35 766.2C1054.25 769.78 1055.68 773.4 1057.65 777C1059.62 780.6 1062.28 784.2 1065.15 787.8C1068.02 791.4 1071.62 795 1074.85 798.6C1078.08 802.2 1081.48 805.82 1084.55 809.4C1087.62 812.98 1090.65 816.52 1093.25 820.1C1095.85 823.68 1098.37 827.3 1100.15 830.9C1101.93 834.5 1103.15 838.1 1103.95 841.7C1104.75 845.3 1104.73 847.87 1104.95 852.5C1105.18 857.13 1105.24 866.67 1105.3 869.5L1105.3 869.5C1105.36 866.67 1105.42 857.13 1105.64 852.5C1105.87 847.87 1105.85 845.3 1106.65 841.7C1107.45 838.1 1108.67 834.5 1110.45 830.9C1112.23 827.3 1114.75 823.68 1117.35 820.1C1119.95 816.52 1122.98 812.98 1126.05 809.4C1129.12 805.82 1132.52 802.2 1135.75 798.6C1138.98 795 1142.58 791.4 1145.45 787.8C1148.32 784.2 1150.98 780.6 1152.95 777C1154.92 773.4 1156.35 769.78 1157.25 766.2C1158.15 762.62 1158.45 759.08 1158.35 755.5C1158.25 751.92 1157.55 748.3 1156.65 744.7C1155.75 741.1 1154.47 737.5 1152.95 733.9C1151.43 730.3 1149.52 726.7 1147.55 723.1C1145.58 719.5 1143.37 715.88 1141.15 712.3C1138.93 708.72 1136.6 705.18 1134.25 701.6C1131.9 698.02 1128.8 693.75 1127.05 690.8C1125.3 687.85 1125.1 686.95 1123.75 683.9C1122.4 680.85 1119.9 676.28 1118.95 672.5C1118 668.72 1118.02 664.97 1118.05 661.2C1118.08 657.43 1118.85 653.67 1119.15 649.9C1119.45 646.13 1119.97 642.38 1119.85 638.6C1119.73 634.82 1119.05 630.98 1118.45 627.2C1117.85 623.42 1116.97 619.67 1116.25 615.9C1115.53 612.13 1114.57 608.37 1114.15 604.6C1113.73 600.83 1113.78 597.08 1113.75 593.3C1113.72 589.52 1113.98 585.68 1113.95 581.9C1113.92 578.12 1113.88 574.37 1113.55 570.6C1113.22 566.83 1112.63 563.07 1111.95 559.3C1111.27 555.53 1110.32 551.78 1109.45 548C1108.58 544.22 1107.37 540.38 1106.75 536.6C1106.13 532.82 1105.94 531.03 1105.7 525.3C1105.46 519.57 1105.37 506.05 1105.3 502.2Z" fill="#ffa3c2" stroke="#2b2b2b" stroke-width="1.6" stroke-linejoin="round"/>
<path d="M1078.8 738.9H1132.3" stroke="#000" stroke-width="2.8"/>
<rect x="1086.4" y="699" width="38.1" height="74.1" fill="#fff" stroke="#000" stroke-width="1.9"/>
<circle cx="1105.3" cy="724.2" r="3" fill="#000"/>
<path d="M867.7 496.3H1104" stroke="#000" stroke-width="2.9"/>
<g font-size="18" font-weight="bold" fill="#111" text-anchor="middle">
<text x="986.4" y="479.8"><tspan font-style="italic">p</tspan> &lt; 0.05 FWE-corrected</text>
<text x="976.9" y="528.7"><tspan font-style="italic">t</tspan> = -3.08</text>
</g>
</g>
<text x="324.6" y="31" font-size="20" font-weight="bold" text-anchor="middle" fill="#111" letter-spacing="0.37"><tspan font-style="italic">t</tspan>-statistic in REO beta wPLI</text>
<text x="16.9" y="36.8" font-size="30" font-weight="bold" fill="#000">A</text>
<text x="16.7" y="477.8" font-size="30" font-weight="bold" fill="#000">B</text>
<text x="619" y="477.6" font-size="30" font-weight="bold" fill="#000">C</text>
</svg>
</body></html>
